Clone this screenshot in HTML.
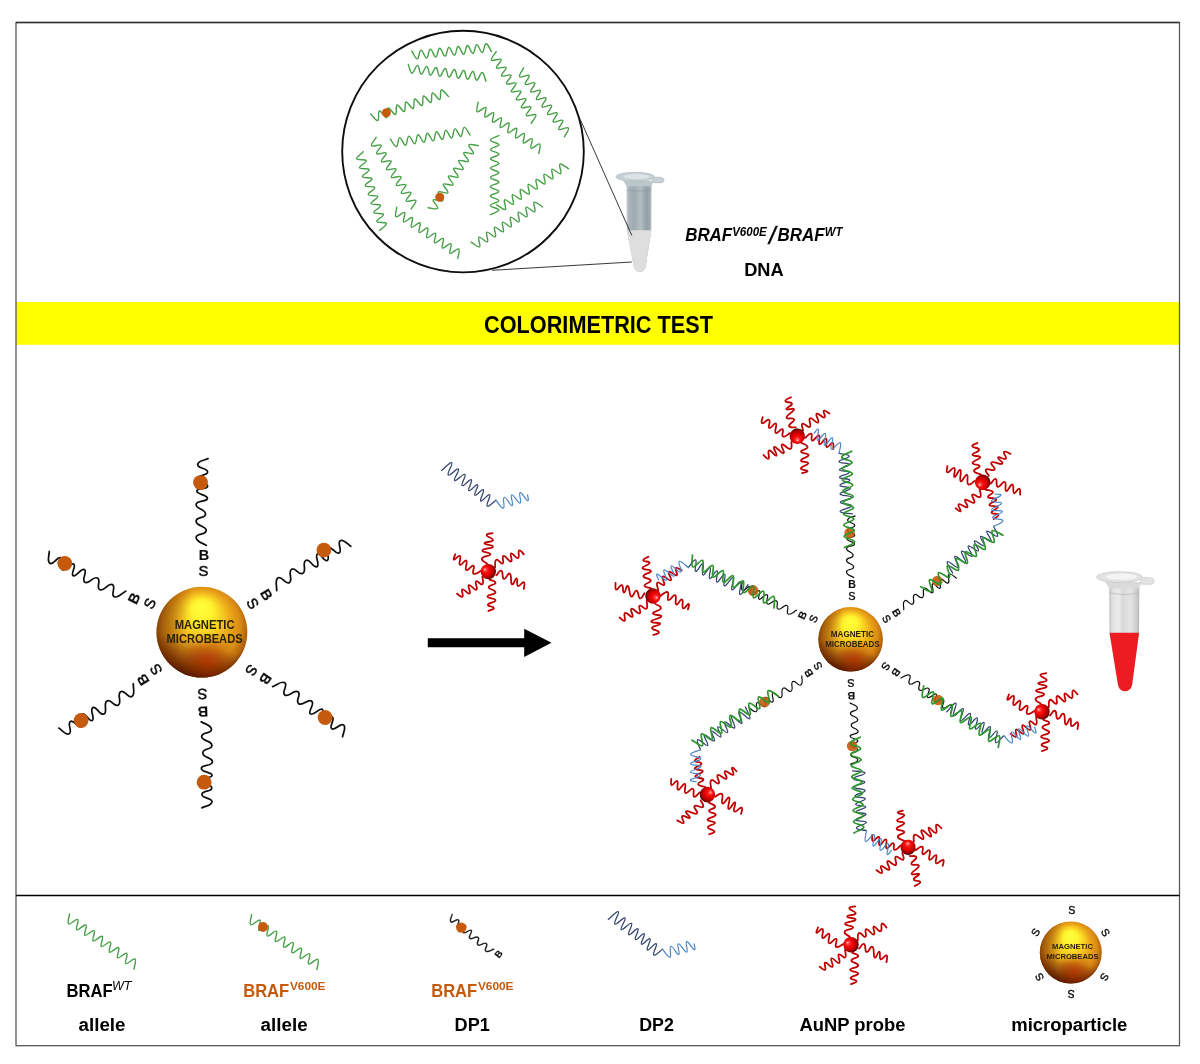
<!DOCTYPE html>
<html lang="en"><head><meta charset="utf-8"><title>Colorimetric test</title>
<style>html,body{margin:0;padding:0;background:#fff}svg{display:block}text{font-kerning:normal}</style></head>
<body>
<svg width="1200" height="1064" viewBox="0 0 1200 1064">
<defs>
<radialGradient id="gold" cx="0.5" cy="0.47" r="0.53" fx="0.5" fy="0.2">
<stop offset="0" stop-color="#ffff3c"/><stop offset="0.22" stop-color="#fff32e"/><stop offset="0.42" stop-color="#f7cb22"/><stop offset="0.6" stop-color="#eba61a"/><stop offset="0.8" stop-color="#d98a14"/><stop offset="0.93" stop-color="#b5650b"/><stop offset="1" stop-color="#84420a"/>
</radialGradient>
<radialGradient id="goldsh" cx="0.56" cy="0.8" r="0.3">
<stop offset="0" stop-color="#b82000" stop-opacity="0.6"/><stop offset="0.5" stop-color="#a02000" stop-opacity="0.35"/><stop offset="1" stop-color="#8a2800" stop-opacity="0"/>
</radialGradient>
<linearGradient id="goldl" x1="0" x2="1" y1="0.45" y2="0.55">
<stop offset="0" stop-color="#6a3000" stop-opacity="0.55"/><stop offset="0.35" stop-color="#6a3000" stop-opacity="0"/><stop offset="1" stop-color="#6a3000" stop-opacity="0"/>
</linearGradient>
<linearGradient id="goldb" x1="0.64" x2="0.36" y1="0" y2="1">
<stop offset="0" stop-color="#5a1a00" stop-opacity="0"/><stop offset="0.62" stop-color="#5a1a00" stop-opacity="0"/><stop offset="0.85" stop-color="#5a1a00" stop-opacity="0.6"/><stop offset="1" stop-color="#4a1000" stop-opacity="0.9"/>
</linearGradient>
<radialGradient id="red" cx="0.42" cy="0.45" r="0.62" fx="0.27" fy="0.36">
<stop offset="0" stop-color="#fff0f0"/><stop offset="0.1" stop-color="#ff6262"/><stop offset="0.3" stop-color="#f81010"/><stop offset="0.58" stop-color="#dc0000"/><stop offset="0.82" stop-color="#960000"/><stop offset="1" stop-color="#200000"/>
</radialGradient>
<linearGradient id="tubeg" x1="0" x2="1" y1="0" y2="0">
<stop offset="0" stop-color="#c3ccd0"/><stop offset="0.1" stop-color="#a9b5ba"/><stop offset="0.3" stop-color="#9dabb0"/><stop offset="0.55" stop-color="#b3bec2"/><stop offset="0.8" stop-color="#93a1a7"/><stop offset="0.93" stop-color="#9eabb0"/><stop offset="1" stop-color="#c3ccd0"/>
</linearGradient>
<linearGradient id="tuber" x1="0" x2="1" y1="0" y2="0">
<stop offset="0" stop-color="#b9b9b9"/><stop offset="0.08" stop-color="#dedede"/><stop offset="0.3" stop-color="#ececec"/><stop offset="0.45" stop-color="#d9d9d9"/><stop offset="0.7" stop-color="#e4e4e4"/><stop offset="0.9" stop-color="#cfcfcf"/><stop offset="1" stop-color="#b5b5b5"/>
</linearGradient>
<filter id="soft" x="0" y="0" width="1200" height="1064" filterUnits="userSpaceOnUse"><feGaussianBlur stdDeviation="0.45"/></filter>
</defs>
<rect width="1200" height="1064" fill="#fff"/>
<g filter="url(#soft)">
<rect x="16" y="302.1" width="1164" height="42.7" fill="#ffff00"/>
<rect x="16" y="22.5" width="1163.5" height="1023.2" fill="none" stroke="#5a5a5a" stroke-width="1.3"/>
<line x1="16" y1="22.5" x2="1179.5" y2="22.5" stroke="#333" stroke-width="1.3"/>
<line x1="16" y1="895.5" x2="1179.5" y2="895.5" stroke="#000" stroke-width="1.7"/>
<text x="484.1" y="332.5" font-family="'Liberation Sans', sans-serif" font-size="23.2" font-weight="bold" font-style="normal" fill="#000" text-anchor="start" textLength="228.8" lengthAdjust="spacingAndGlyphs">COLORIMETRIC TEST</text>
<circle cx="463" cy="151.6" r="120.8" fill="#fff" stroke="#0a0a0a" stroke-width="1.85"/>
<path d="M411.8 51C413.6 53.61 415.31 59.09 417.26 58.9C419.21 58.71 419.13 50.28 421.08 50.09C423.03 49.9 424.59 58.18 426.54 57.99C428.49 57.8 428.41 49.37 430.36 49.17C432.31 48.98 433.87 57.27 435.82 57.08C437.77 56.89 437.69 48.45 439.64 48.26C441.59 48.07 443.15 56.36 445.1 56.16C447.05 55.97 446.97 47.54 448.92 47.35C450.87 47.16 452.43 55.44 454.38 55.25C456.33 55.06 456.25 46.63 458.2 46.44C460.15 46.24 461.71 54.53 463.66 54.34C465.61 54.15 465.53 45.71 467.48 45.52C469.43 45.33 470.99 53.62 472.94 53.43C474.89 53.23 474.81 44.8 476.76 44.61C478.71 44.42 480.27 52.7 482.22 52.51C484.17 52.32 484.09 43.89 486.04 43.7C487.99 43.51 489.7 48.99 491.5 51.6" fill="none" stroke="#45a045" stroke-width="1.4" stroke-linecap="round" stroke-linejoin="round"/>
<path d="M408.3 64.4C409.52 67.31 410.07 73.01 412.01 73.22C413.95 73.44 415.6 65.2 417.54 65.41C419.48 65.62 419.31 74.02 421.25 74.23C423.18 74.45 424.83 66.21 426.77 66.42C428.71 66.63 428.54 75.03 430.48 75.24C432.42 75.46 434.07 67.22 436.01 67.43C437.95 67.64 437.78 76.04 439.72 76.25C441.66 76.47 443.31 68.23 445.25 68.44C447.19 68.65 447.01 77.05 448.95 77.26C450.89 77.47 452.54 69.23 454.48 69.45C456.42 69.66 456.25 78.06 458.19 78.27C460.13 78.48 461.78 70.24 463.72 70.46C465.66 70.67 465.49 79.07 467.43 79.28C469.37 79.49 471.02 71.25 472.95 71.47C474.89 71.68 474.72 80.08 476.66 80.29C478.6 80.5 480.25 72.26 482.19 72.48C484.13 72.69 484.68 78.39 485.9 81.3" fill="none" stroke="#45a045" stroke-width="1.4" stroke-linecap="round" stroke-linejoin="round"/>
<path d="M370.6 114C372.95 116.14 375.86 121.1 377.72 120.47C379.58 119.84 377.59 111.63 379.45 111C381.31 110.37 384.71 118.1 386.57 117.47C388.43 116.85 386.44 108.64 388.29 108.01C390.15 107.38 393.56 115.11 395.42 114.48C397.27 113.85 395.28 105.64 397.14 105.01C399 104.38 402.41 112.11 404.26 111.48C406.12 110.85 404.13 102.64 405.99 102.01C407.85 101.39 411.25 109.11 413.11 108.49C414.97 107.86 412.98 99.65 414.84 99.02C416.69 98.39 420.1 106.12 421.96 105.49C423.82 104.86 421.83 96.65 423.68 96.02C425.54 95.39 428.95 103.12 430.81 102.49C432.66 101.86 430.67 93.65 432.53 93.03C434.39 92.4 437.79 100.13 439.65 99.5C441.51 98.87 439.52 90.66 441.38 90.03C443.24 89.4 446.15 94.36 448.5 96.5" fill="none" stroke="#45a045" stroke-width="1.4" stroke-linecap="round" stroke-linejoin="round"/>
<path d="M390.4 139.1C392.36 141.6 394.39 146.98 396.33 146.68C398.26 146.37 397.69 137.95 399.62 137.64C401.56 137.33 403.61 145.52 405.55 145.22C407.48 144.91 406.91 136.49 408.84 136.18C410.78 135.87 412.83 144.06 414.77 143.76C416.71 143.45 416.13 135.03 418.07 134.72C420 134.41 422.05 142.6 423.99 142.3C425.93 141.99 425.35 133.57 427.29 133.26C429.22 132.95 431.28 141.15 433.21 140.84C435.15 140.53 434.57 132.11 436.51 131.8C438.45 131.5 440.5 139.69 442.43 139.38C444.37 139.07 443.79 130.65 445.73 130.34C447.67 130.04 449.72 138.23 451.66 137.92C453.59 137.61 453.02 129.19 454.95 128.88C456.89 128.58 458.94 136.77 460.88 136.46C462.81 136.15 462.24 127.73 464.17 127.42C466.11 127.12 468.14 132.5 470.1 135" fill="none" stroke="#45a045" stroke-width="1.4" stroke-linecap="round" stroke-linejoin="round"/>
<path d="M363.3 151.75C361.11 154.08 356.06 156.94 356.67 158.82C357.27 160.7 365.57 158.83 366.18 160.71C366.78 162.59 358.94 165.9 359.55 167.78C360.15 169.66 368.45 167.79 369.06 169.67C369.66 171.55 361.82 174.86 362.43 176.74C363.03 178.62 371.33 176.75 371.94 178.63C372.54 180.51 364.7 183.82 365.31 185.7C365.91 187.58 374.21 185.71 374.82 187.59C375.42 189.47 367.58 192.78 368.18 194.66C368.79 196.54 377.09 194.67 377.69 196.55C378.3 198.43 370.46 201.74 371.06 203.62C371.67 205.5 379.97 203.63 380.57 205.51C381.18 207.39 373.34 210.7 373.94 212.58C374.55 214.46 382.85 212.59 383.45 214.47C384.06 216.35 376.22 219.66 376.82 221.54C377.43 223.42 385.73 221.55 386.33 223.43C386.94 225.31 381.89 228.17 379.7 230.5" fill="none" stroke="#45a045" stroke-width="1.4" stroke-linecap="round" stroke-linejoin="round"/>
<path d="M376.2 137.3C374.67 140.08 370.52 144.05 371.56 145.71C372.6 147.37 380.11 143.54 381.15 145.2C382.2 146.86 375.48 151.95 376.52 153.61C377.56 155.27 385.07 151.44 386.11 153.1C387.15 154.76 380.43 159.85 381.47 161.51C382.51 163.17 390.02 159.34 391.06 161C392.1 162.65 385.39 167.75 386.43 169.41C387.47 171.07 394.98 167.24 396.02 168.89C397.06 170.55 390.34 175.65 391.38 177.31C392.42 178.96 399.93 175.13 400.97 176.79C402.01 178.45 395.3 183.55 396.34 185.2C397.38 186.86 404.89 183.03 405.93 184.69C406.97 186.35 400.25 191.44 401.29 193.1C402.33 194.76 409.84 190.93 410.88 192.59C411.92 194.25 405.2 199.34 406.25 201C407.29 202.66 414.8 198.83 415.84 200.49C416.88 202.15 412.73 206.12 411.2 208.9" fill="none" stroke="#45a045" stroke-width="1.4" stroke-linecap="round" stroke-linejoin="round"/>
<path d="M428.1 207.75C431.28 207.97 436.65 210.06 437.72 208.42C438.79 206.77 432.13 201.55 433.2 199.9C434.27 198.25 441.75 202.21 442.82 200.56C443.89 198.91 437.22 193.69 438.29 192.05C439.36 190.4 446.85 194.36 447.92 192.71C448.99 191.06 442.32 185.84 443.39 184.19C444.46 182.55 451.94 186.51 453.01 184.86C454.08 183.21 447.42 177.99 448.49 176.34C449.56 174.69 457.04 178.66 458.11 177.01C459.18 175.36 452.52 170.14 453.59 168.49C454.66 166.84 462.14 170.8 463.21 169.16C464.28 167.51 457.61 162.29 458.68 160.64C459.75 158.99 467.24 162.95 468.31 161.3C469.38 159.66 462.71 154.44 463.78 152.79C464.85 151.14 472.33 155.1 473.4 153.45C474.47 151.8 467.81 146.58 468.88 144.93C469.95 143.29 475.32 145.38 478.5 145.6" fill="none" stroke="#45a045" stroke-width="1.4" stroke-linecap="round" stroke-linejoin="round"/>
<path d="M396.8 207.2C396.52 210.36 394.34 215.68 395.97 216.77C397.59 217.87 402.91 211.32 404.53 212.42C406.15 213.51 402.07 220.89 403.7 221.99C405.32 223.08 410.64 216.54 412.26 217.63C413.88 218.73 409.8 226.11 411.42 227.2C413.05 228.3 418.36 221.75 419.99 222.85C421.61 223.94 417.53 231.32 419.15 232.42C420.78 233.51 426.09 226.97 427.72 228.06C429.34 229.16 425.26 236.54 426.88 237.64C428.51 238.73 433.82 232.19 435.45 233.28C437.07 234.38 432.99 241.76 434.61 242.85C436.24 243.95 441.55 237.4 443.18 238.5C444.8 239.59 440.72 246.97 442.34 248.07C443.96 249.16 449.28 242.62 450.9 243.71C452.53 244.81 448.45 252.19 450.07 253.28C451.69 254.38 457.01 247.83 458.63 248.93C460.26 250.02 458.08 255.34 457.8 258.5" fill="none" stroke="#45a045" stroke-width="1.4" stroke-linecap="round" stroke-linejoin="round"/>
<path d="M496.2 51.6C494.67 54.38 490.51 58.36 491.55 60.02C492.59 61.68 500.12 57.85 501.16 59.51C502.2 61.17 495.47 66.27 496.51 67.93C497.55 69.59 505.07 65.76 506.11 67.42C507.15 69.08 500.42 74.18 501.46 75.84C502.51 77.5 510.03 73.67 511.07 75.33C512.11 76.99 505.38 82.09 506.42 83.75C507.46 85.41 514.98 81.58 516.02 83.24C517.06 84.9 510.34 90 511.38 91.66C512.42 93.32 519.94 89.49 520.98 91.15C522.02 92.81 515.29 97.91 516.33 99.57C517.37 101.23 524.89 97.4 525.94 99.06C526.98 100.72 520.25 105.82 521.29 107.48C522.33 109.14 529.85 105.31 530.89 106.97C531.93 108.63 525.2 113.73 526.24 115.39C527.28 117.05 534.81 113.22 535.85 114.88C536.89 116.54 532.73 120.52 531.2 123.3" fill="none" stroke="#45a045" stroke-width="1.4" stroke-linecap="round" stroke-linejoin="round"/>
<path d="M523.6 67.9C522.29 70.8 518.46 75.12 519.64 76.69C520.81 78.27 528.02 73.83 529.2 75.41C530.37 76.98 524.06 82.62 525.23 84.2C526.41 85.78 533.62 81.34 534.79 82.91C535.97 84.49 529.65 90.13 530.83 91.71C532 93.28 539.21 88.84 540.39 90.42C541.56 92 535.25 97.64 536.42 99.22C537.6 100.79 544.81 96.35 545.98 97.93C547.16 99.5 540.84 105.15 542.02 106.72C543.19 108.3 550.4 103.86 551.58 105.43C552.75 107.01 546.44 112.65 547.61 114.23C548.79 115.81 556 111.37 557.17 112.94C558.35 114.52 552.03 120.16 553.21 121.74C554.38 123.31 561.59 118.87 562.77 120.45C563.94 122.03 557.63 127.67 558.8 129.24C559.98 130.82 567.19 126.38 568.36 127.96C569.54 129.53 565.71 133.85 564.4 136.75" fill="none" stroke="#45a045" stroke-width="1.4" stroke-linecap="round" stroke-linejoin="round"/>
<path d="M478.1 102.3C477.82 105.45 475.64 110.74 477.25 111.83C478.87 112.93 484.18 106.41 485.79 107.51C487.41 108.6 483.33 115.95 484.95 117.04C486.56 118.14 491.87 111.62 493.49 112.72C495.1 113.81 491.03 121.16 492.64 122.25C494.26 123.34 499.56 116.83 501.18 117.92C502.79 119.02 498.72 126.37 500.33 127.46C501.95 128.55 507.26 122.04 508.87 123.13C510.49 124.23 506.41 131.57 508.03 132.67C509.64 133.76 514.95 127.25 516.57 128.34C518.18 129.43 514.11 136.78 515.72 137.88C517.34 138.97 522.64 132.46 524.26 133.55C525.87 134.64 521.8 141.99 523.41 143.08C525.03 144.18 530.34 137.66 531.95 138.76C533.57 139.85 529.49 147.2 531.11 148.29C532.72 149.39 538.03 142.87 539.65 143.97C541.26 145.06 539.08 150.35 538.8 153.5" fill="none" stroke="#45a045" stroke-width="1.4" stroke-linecap="round" stroke-linejoin="round"/>
<path d="M499 135.5C496.22 137.03 490.59 138.17 490.58 140.13C490.57 142.09 498.97 142.87 498.96 144.83C498.96 146.79 490.55 147.5 490.55 149.46C490.54 151.42 498.94 152.2 498.93 154.15C498.92 156.11 490.52 156.83 490.51 158.79C490.5 160.75 498.9 161.52 498.89 163.48C498.89 165.44 490.48 166.16 490.48 168.11C490.47 170.07 498.87 170.85 498.86 172.81C498.85 174.77 490.45 175.48 490.44 177.44C490.43 179.4 498.83 180.18 498.82 182.14C498.82 184.09 490.41 184.81 490.41 186.77C490.4 188.73 498.8 189.5 498.79 191.46C498.78 193.42 490.38 194.14 490.37 196.1C490.36 198.05 498.76 198.83 498.75 200.79C498.75 202.75 490.34 203.46 490.34 205.42C490.33 207.38 498.73 208.16 498.72 210.12C498.71 212.08 493.08 213.22 490.3 214.75" fill="none" stroke="#45a045" stroke-width="1.4" stroke-linecap="round" stroke-linejoin="round"/>
<path d="M496.75 204.8C499.57 206.31 503.62 210.44 505.28 209.38C506.94 208.31 502.99 200.78 504.65 199.72C506.31 198.65 511.52 205.36 513.18 204.29C514.84 203.22 510.9 195.7 512.55 194.63C514.21 193.56 519.43 200.27 521.09 199.21C522.75 198.14 518.8 190.61 520.46 189.55C522.12 188.48 527.33 195.19 528.99 194.12C530.65 193.05 526.7 185.53 528.36 184.46C530.02 183.39 535.23 190.11 536.89 189.04C538.55 187.97 534.6 180.45 536.26 179.38C537.92 178.31 543.13 185.02 544.79 183.95C546.45 182.89 542.5 175.36 544.16 174.29C545.82 173.23 551.04 179.94 552.7 178.87C554.35 177.8 550.41 170.28 552.07 169.21C553.73 168.14 558.94 174.85 560.6 173.78C562.26 172.72 558.31 165.19 559.97 164.12C561.63 163.06 565.68 167.19 568.5 168.7" fill="none" stroke="#45a045" stroke-width="1.4" stroke-linecap="round" stroke-linejoin="round"/>
<path d="M471.1 242.2C473.89 243.72 477.89 247.85 479.54 246.8C481.2 245.75 477.33 238.25 478.98 237.2C480.64 236.15 485.77 242.85 487.43 241.8C489.08 240.75 485.21 233.25 486.86 232.2C488.52 231.15 493.65 237.85 495.31 236.8C496.96 235.75 493.09 228.25 494.75 227.2C496.4 226.15 501.54 232.85 503.19 231.8C504.85 230.75 500.97 223.25 502.63 222.2C504.28 221.15 509.42 227.85 511.07 226.8C512.73 225.75 508.85 218.25 510.51 217.2C512.16 216.15 517.3 222.85 518.95 221.8C520.61 220.75 516.74 213.25 518.39 212.2C520.05 211.15 525.18 217.85 526.84 216.8C528.49 215.75 524.62 208.25 526.27 207.2C527.93 206.15 533.06 212.85 534.72 211.8C536.37 210.75 532.5 203.25 534.16 202.2C535.81 201.15 539.81 205.28 542.6 206.8" fill="none" stroke="#45a045" stroke-width="1.4" stroke-linecap="round" stroke-linejoin="round"/>
<circle cx="386.4" cy="112.8" r="4.5" fill="#c55a11"/>
<circle cx="439.75" cy="197.25" r="4.5" fill="#c55a11"/>
<g transform="translate(639.1 172.3) scale(1)">
<path d="M-12.5 12 L12.5 12 L12.3 57.9 L6.6 93.5 Q5.8 99.6 0.6 99.6 Q-4.6 99.6 -5.4 93.5 L-12.3 57.9 Z" fill="url(#tubeg)"/>
<path d="M-12.3 57.9 L12.3 57.9 L6.6 93.5 Q5.8 99.6 0.6 99.6 Q-4.6 99.6 -5.4 93.5 L-12.3 57.9 Z" fill="#dedede"/>
<path d="M-12.3 17.5 Q0 20.5 12.3 17.5" fill="none" stroke="#8d9aa0" stroke-width="0.9" opacity="0.7"/>
<path d="M-16 8.5 L14 8.5 L12.5 14 L-12.5 14 Z" fill="#bcc7cc"/>
<path d="M13 4.6 L21.5 5 Q25.2 5.6 25 8 Q24.8 10.6 21.5 10.6 L14 10.4 Z" fill="#c6d0d5" stroke="#aab5bb" stroke-width="0.5"/>
<ellipse cx="-4" cy="4.5" rx="19.1" ry="4.5" fill="#c6d0d5" stroke="#aab5bb" stroke-width="0.6"/>
<ellipse cx="-2.5" cy="4.2" rx="13" ry="2.6" fill="#dde4e8"/>
</g>
<line x1="580.3" y1="119.5" x2="631.8" y2="235.5" stroke="#222" stroke-width="0.9"/>
<line x1="492" y1="270.3" x2="631.8" y2="262" stroke="#222" stroke-width="0.9"/>
<text font-family="'Liberation Sans', sans-serif"><tspan x="685.2" y="241.2" font-size="17.6" font-weight="bold" font-style="italic" fill="#000" textLength="47" lengthAdjust="spacingAndGlyphs">BRAF</tspan><tspan x="732.2" y="235.6" font-size="12.2" font-weight="bold" font-style="italic" fill="#000" textLength="34.6" lengthAdjust="spacingAndGlyphs">V600E</tspan><tspan x="769" y="243.6" font-size="23.5" font-weight="normal" font-style="italic" fill="#000" stroke="#000" stroke-width="0.5">/</tspan><tspan x="777.5" y="241.2" font-size="17.6" font-weight="bold" font-style="italic" fill="#000" textLength="47" lengthAdjust="spacingAndGlyphs">BRAF</tspan><tspan x="824.8" y="235.6" font-size="12.2" font-weight="bold" font-style="italic" fill="#000" textLength="17.6" lengthAdjust="spacingAndGlyphs">WT</tspan></text>
<text x="744.2" y="275.9" font-family="'Liberation Sans', sans-serif" font-size="17.6" font-weight="bold" font-style="normal" fill="#000" text-anchor="start" textLength="39.5" lengthAdjust="spacingAndGlyphs">DNA</text>
<path d="M208.1 458.6C204.98 460.4 197.85 460.55 197.7 464.6C197.55 468.65 207.66 467.93 207.6 472.1C207.54 476.27 197.5 474.27 197.5 478.5C197.5 482.73 207.81 482.42 207.6 486.2C207.39 489.98 196.86 487.44 196.8 491.1C196.74 494.76 207.61 494.38 207.4 498.4C207.19 502.42 196.67 499.85 196.1 504.5C195.53 509.15 205.5 508.83 205.5 513.9C205.5 518.97 195.89 516.45 196.1 521.4C196.31 526.35 206.2 525.6 206.2 530.4C206.2 535.2 196.1 532.9 196.1 537.4C196.1 541.9 203.17 543 206.2 545.4" fill="none" stroke="#111" stroke-width="1.75" stroke-linecap="round"/>
<circle cx="200.5" cy="482.6" r="7.4" fill="#c55a11" opacity="1.0"/>
<text transform="translate(203.5 571) rotate(0)" x="0" y="5.3" font-family="'Liberation Sans', sans-serif" font-size="14.8" font-weight="normal" text-anchor="middle" fill="#111" stroke="#111" stroke-width="0.5">S</text>
<text transform="translate(204.1 555.2) rotate(0)" x="0" y="5.19" font-family="'Liberation Sans', sans-serif" font-size="14.5" font-weight="bold" text-anchor="middle" fill="#111" stroke="#111" stroke-width="0.15">B</text>
<path d="M350.8 546.25C347.63 544.58 343.73 538.65 340.24 540.67C336.75 542.69 342.71 550.82 339.17 552.98C335.62 555.13 331.99 545.62 328.43 547.86C324.87 550.1 330.59 558.62 327.29 560.44C324 562.26 320.56 552.05 317.45 553.94C314.34 555.83 320.41 564.78 316.91 566.73C313.42 568.68 310.01 558.46 305.8 560.44C301.58 562.42 307.12 570.65 302.86 573.34C298.59 576.02 295.62 566.59 291.56 569.39C287.51 572.19 293.37 580.12 289.33 582.66C285.29 585.2 281.88 575.48 278.09 577.86C274.3 580.24 277.12 586.78 276.7 590.6" fill="none" stroke="#111" stroke-width="1.75" stroke-linecap="round"/>
<circle cx="323.9" cy="550.1" r="7.4" fill="#c55a11" opacity="1.0"/>
<text transform="translate(252.8 603.4) rotate(57.84)" x="0" y="5.3" font-family="'Liberation Sans', sans-serif" font-size="14.8" font-weight="normal" text-anchor="middle" fill="#111" stroke="#111" stroke-width="0.5">S</text>
<text transform="translate(266.75 594.7) rotate(57.84)" x="0" y="5.19" font-family="'Liberation Sans', sans-serif" font-size="14.5" font-weight="bold" text-anchor="middle" fill="#111" stroke="#111" stroke-width="0.15">B</text>
<path d="M342.6 736.75C342.87 733.19 346.74 727.27 343.51 724.88C340.28 722.49 335.21 731.17 331.83 728.78C328.45 726.4 335.71 719.3 332.24 716.93C328.78 714.56 323.26 723.18 320.28 720.89C317.31 718.6 325.28 711.4 322.32 709.3C319.36 707.21 313.58 716.32 310.41 713.9C307.23 711.47 315.23 704.3 311.74 701.23C308.25 698.16 302.93 706.5 298.78 703.66C294.63 700.82 302.07 694.37 297.9 691.77C293.73 689.17 288.81 697.68 284.88 695C280.95 692.31 288.49 685.33 284.8 682.81C281.12 680.29 276.26 685.46 272.6 686.6" fill="none" stroke="#111" stroke-width="1.75" stroke-linecap="round"/>
<circle cx="325.1" cy="717.5" r="7.4" fill="#c55a11" opacity="1.0"/>
<text transform="translate(251.6 670.25) rotate(124.36)" x="0" y="5.3" font-family="'Liberation Sans', sans-serif" font-size="14.8" font-weight="normal" text-anchor="middle" fill="#111" stroke="#111" stroke-width="0.5">S</text>
<text transform="translate(265.6 679) rotate(124.36)" x="0" y="5.19" font-family="'Liberation Sans', sans-serif" font-size="14.5" font-weight="bold" text-anchor="middle" fill="#111" stroke="#111" stroke-width="0.15">B</text>
<path d="M201.8 807.9C204.84 806.02 211.92 805.67 211.95 801.65C211.98 797.62 201.97 798.63 201.91 794.49C201.85 790.35 211.87 792.04 211.75 787.85C211.63 783.65 201.41 784.25 201.51 780.49C201.61 776.74 212.13 778.96 212.08 775.32C212.04 771.69 201.26 772.38 201.35 768.38C201.45 764.38 211.96 766.63 212.4 762C212.83 757.37 202.94 757.97 202.8 752.94C202.65 747.91 212.26 750.14 211.91 745.23C211.56 740.32 201.77 741.35 201.63 736.59C201.49 731.82 211.58 733.82 211.45 729.35C211.32 724.88 204.28 724 201.2 721.7" fill="none" stroke="#111" stroke-width="1.75" stroke-linecap="round"/>
<circle cx="204.1" cy="782.2" r="7.4" fill="#c55a11" opacity="1.0"/>
<text transform="translate(202.5 694.1) rotate(178.35)" x="0" y="5.3" font-family="'Liberation Sans', sans-serif" font-size="14.8" font-weight="normal" text-anchor="middle" fill="#111" stroke="#111" stroke-width="0.5">S</text>
<text transform="translate(202.9 711.8) rotate(178.35)" x="0" y="5.19" font-family="'Liberation Sans', sans-serif" font-size="14.5" font-weight="bold" text-anchor="middle" fill="#111" stroke="#111" stroke-width="0.15">B</text>
<path d="M58.7 728.1C61.88 729.79 65.78 735.76 69.29 733.74C72.81 731.72 66.84 723.53 70.41 721.38C73.98 719.22 77.6 728.79 81.19 726.55C84.77 724.31 79.05 715.73 82.37 713.91C85.68 712.09 89.1 722.36 92.24 720.47C95.37 718.58 89.3 709.57 92.82 707.62C96.33 705.67 99.73 715.95 103.97 713.97C108.22 711.99 102.66 703.71 106.96 701.02C111.26 698.34 114.21 707.82 118.3 705.02C122.39 702.22 116.51 694.23 120.58 691.69C124.65 689.15 128.05 698.93 131.87 696.55C135.68 694.17 132.87 687.59 133.3 683.75" fill="none" stroke="#111" stroke-width="1.75" stroke-linecap="round"/>
<circle cx="81.1" cy="720.5" r="7.4" fill="#c55a11" opacity="1.0"/>
<text transform="translate(155.9 669.75) rotate(238.01)" x="0" y="5.3" font-family="'Liberation Sans', sans-serif" font-size="14.8" font-weight="normal" text-anchor="middle" fill="#111" stroke="#111" stroke-width="0.5">S</text>
<text transform="translate(142.7 679.7) rotate(238.01)" x="0" y="5.19" font-family="'Liberation Sans', sans-serif" font-size="14.5" font-weight="bold" text-anchor="middle" fill="#111" stroke="#111" stroke-width="0.15">B</text>
<path d="M49.25 551.5C49.49 555.07 46.5 561.48 50.04 563.39C53.58 565.29 57.36 555.98 61.05 557.86C64.74 559.74 58.56 567.8 62.33 569.65C66.09 571.5 70.33 562.19 73.6 564.03C76.88 565.87 70.01 574.14 73.24 575.79C76.47 577.45 80.89 567.6 84.38 569.55C87.87 571.5 80.97 579.74 84.86 582.28C88.75 584.83 92.83 575.81 97.35 578.03C101.86 580.25 95.41 587.7 99.91 589.68C104.41 591.66 108.07 582.53 112.34 584.63C116.62 586.73 110.15 594.72 114.15 596.69C118.16 598.66 122.24 592.85 125.7 591.2" fill="none" stroke="#111" stroke-width="1.75" stroke-linecap="round"/>
<circle cx="64.8" cy="563.4" r="7.4" fill="#c55a11" opacity="1.0"/>
<text transform="translate(149.6 603.4) rotate(-63.81)" x="0" y="5.3" font-family="'Liberation Sans', sans-serif" font-size="14.8" font-weight="normal" text-anchor="middle" fill="#111" stroke="#111" stroke-width="0.5">S</text>
<text transform="translate(133.8 598.2) rotate(-63.81)" x="0" y="5.19" font-family="'Liberation Sans', sans-serif" font-size="14.5" font-weight="bold" text-anchor="middle" fill="#111" stroke="#111" stroke-width="0.15">B</text>
<circle cx="201.9" cy="632.2" r="45.4" fill="url(#gold)"/>
<circle cx="201.9" cy="632.2" r="45.4" fill="url(#goldl)"/>
<circle cx="201.9" cy="632.2" r="45.4" fill="url(#goldb)"/>
<circle cx="201.9" cy="632.2" r="45.4" fill="url(#goldsh)"/>
<text x="204.6" y="628.6" font-family="'Liberation Sans', sans-serif" font-size="12" font-weight="bold" font-style="normal" fill="#2b2205" text-anchor="middle" textLength="59.8" lengthAdjust="spacingAndGlyphs">MAGNETIC</text>
<text x="204.6" y="642.7" font-family="'Liberation Sans', sans-serif" font-size="12" font-weight="bold" font-style="normal" fill="#2b2205" text-anchor="middle" textLength="76" lengthAdjust="spacingAndGlyphs">MICROBEADS</text>
<path d="M427.8 638.3 L524.2 638.3 L524.2 628.8 L551.5 642.8 L524.2 657 L524.2 647.3 L427.8 647.3 Z" fill="#000"/>
<path d="M441.73 470.33C444.73 468.03 450.11 461.5 451.73 462.67C453.36 463.84 446.56 473.44 448.23 475C449.9 476.56 456.79 467.52 458.4 468.92C460 470.31 453.02 479.23 454.65 480.58C456.27 481.93 463.02 473.08 464.9 474.33C466.77 475.58 460.54 484.23 462.15 485.58C463.75 486.94 469.65 478.5 471.32 479.75C472.99 481 467.26 489.33 468.82 490.58C470.38 491.83 476.05 483.6 477.57 484.75C479.09 485.9 473.44 493.92 474.9 495.17C476.36 496.42 481.94 488.29 483.4 489.75C484.86 491.21 479.17 499.75 480.73 501C482.29 502.25 488.04 493.5 489.65 494.75C491.25 496 485.59 504.64 487.15 506C488.71 507.36 493.27 501.92 495.9 500.17" fill="none" stroke="#34456f" stroke-width="1.3" stroke-linecap="round" stroke-linejoin="round"/>
<path d="M495.9 500.17C498.15 502.54 501.32 508.81 503.4 508.08C505.48 507.35 502.04 497.88 504.23 497.25C506.42 496.62 510.27 506.21 512.15 505.58C514.02 504.96 509.75 495.38 511.73 494.75C513.71 494.12 517.98 503.6 520.07 503.08C522.15 502.56 518.19 493.29 520.07 492.67C521.94 492.04 525.69 500.06 527.57 500.58C529.44 501.1 527.57 496.5 527.57 494.75" fill="none" stroke="#4a86c8" stroke-width="1.2" stroke-linecap="round" stroke-linejoin="round"/>
<path d="M487.03 563.56C485.51 562.04 481.02 561.05 481.95 558.49C482.89 555.93 490.3 556.47 490.42 554.26C490.53 552.05 481.68 552.54 482.38 550.45C483.08 548.36 492.37 548.62 492.95 546.64C493.53 544.66 484.49 545 484.49 543.26C484.49 541.51 492.37 542.51 492.95 540.3C493.53 538.09 486.72 537.2 486.61 535.22C486.49 533.24 490.75 533.74 492.53 533.11" fill="none" stroke="#c00000" stroke-width="1.8" stroke-linecap="round" stroke-linejoin="round"/>
<path d="M495.07 567.37C495.45 565.09 494.24 560.8 496.34 559.76C498.43 558.71 500.7 564.61 502.68 563.56C504.66 562.52 501.2 556.53 503.53 555.95C505.85 555.37 509.05 562.15 511.14 561.45C513.24 560.75 509.28 554.34 511.14 553.41C513 552.48 515.7 558.88 517.91 558.06C520.12 557.25 517.55 551.5 519.18 550.45C520.81 549.4 522.44 553.11 523.83 554.26" fill="none" stroke="#c00000" stroke-width="1.8" stroke-linecap="round" stroke-linejoin="round"/>
<path d="M496.34 575.41C497.86 574.01 499.32 569.82 501.41 570.75C503.51 571.68 501.62 577.98 503.95 578.79C506.28 579.61 507.66 572.2 509.87 573.72C512.08 575.23 510.13 583.01 511.99 584.29C513.85 585.57 515.01 577.9 516.64 578.37C518.27 578.83 515.93 584.94 517.91 585.98C519.89 587.03 522.2 581.36 523.83 582.18C525.46 582.99 523.83 586.91 523.83 588.94" fill="none" stroke="#c00000" stroke-width="1.8" stroke-linecap="round" stroke-linejoin="round"/>
<path d="M489.57 579.64C491.35 580.65 495.72 580.93 495.49 583.02C495.26 585.12 488.72 584.69 488.72 587.25C488.72 589.81 495.84 589.77 495.49 592.33C495.14 594.89 487.45 594.35 487.45 596.56C487.45 598.77 495.37 598.15 495.49 600.36C495.61 602.58 488.34 602.5 487.88 604.59C487.41 606.69 493.68 606.23 493.8 607.98C493.92 609.72 489.95 610.05 488.3 610.94" fill="none" stroke="#c00000" stroke-width="1.8" stroke-linecap="round" stroke-linejoin="round"/>
<path d="M482.38 576.68C482.38 578.96 484.12 583.01 482.38 584.29C480.63 585.57 477.66 579.82 476.03 581.33C474.4 582.84 478.43 588.74 476.46 589.79C474.48 590.84 470.7 584.09 468.84 585.14C466.98 586.18 471.43 592.43 469.69 593.6C467.94 594.76 464.47 588.55 462.5 589.37C460.52 590.18 464.01 595.39 462.5 596.56C460.98 597.72 458.65 594.48 457 593.6" fill="none" stroke="#c00000" stroke-width="1.8" stroke-linecap="round" stroke-linejoin="round"/>
<path d="M481.11 570.75C478.82 571.64 475.59 575.11 473.49 573.72C471.4 572.32 475.47 566.72 473.49 565.68C471.52 564.63 468.28 571.3 466.3 569.91C464.33 568.51 468.05 562 466.3 560.6C464.56 559.21 461.7 566.11 459.96 564.83C458.21 563.55 461.59 557.34 459.96 555.95C458.33 554.55 455.32 560.22 454.04 559.76C452.76 559.29 454.92 555.91 455.31 554.26" fill="none" stroke="#c00000" stroke-width="1.8" stroke-linecap="round" stroke-linejoin="round"/>
<g transform="translate(488.3 571.6) rotate(0)"><circle r="7.7" fill="url(#red)"/></g>
<path d="M855.01 515.87C852.79 517.15 847.72 517.26 847.61 520.14C847.51 523.02 854.7 522.5 854.65 525.47C854.61 528.43 847.47 527.01 847.47 530.02C847.47 533.03 854.8 532.81 854.65 535.49C854.5 538.18 847.02 536.38 846.97 538.98C846.93 541.58 854.66 541.31 854.51 544.17C854.36 547.03 846.88 545.2 846.48 548.51C846.07 551.81 853.16 551.58 853.16 555.19C853.16 558.79 846.33 557 846.48 560.52C846.63 564.04 853.66 563.51 853.66 566.92C853.66 570.33 846.48 568.7 846.48 571.9C846.48 575.1 851.5 575.88 853.66 577.59" fill="none" stroke="#111" stroke-width="1.2" stroke-linecap="round"/>
<circle cx="849.6" cy="532.93" r="5.3" fill="#c55a11" opacity="0.9"/>
<text transform="translate(851.74 595.79) rotate(0)" x="0" y="3.87" font-family="'Liberation Sans', sans-serif" font-size="10.8" font-weight="normal" text-anchor="middle" fill="#111" stroke="#111" stroke-width="0.4">S</text>
<text transform="translate(852.16 584.55) rotate(0)" x="0" y="3.79" font-family="'Liberation Sans', sans-serif" font-size="10.58" font-weight="bold" text-anchor="middle" fill="#111" stroke="#111" stroke-width="0.12">B</text>
<path d="M956.47 578.19C954.22 577 951.44 572.79 948.96 574.22C946.48 575.66 950.72 581.44 948.2 582.97C945.68 584.51 943.1 577.74 940.56 579.33C938.03 580.93 942.1 586.98 939.75 588.28C937.41 589.58 934.97 582.31 932.76 583.66C930.54 585 934.86 591.36 932.37 592.75C929.89 594.14 927.47 586.87 924.47 588.28C921.47 589.69 925.41 595.54 922.38 597.45C919.34 599.36 917.24 592.65 914.35 594.64C911.47 596.63 915.64 602.27 912.76 604.08C909.89 605.88 907.47 598.97 904.77 600.66C902.08 602.36 904.08 607 903.78 609.72" fill="none" stroke="#111" stroke-width="1.2" stroke-linecap="round"/>
<circle cx="937.34" cy="580.93" r="5.3" fill="#c55a11" opacity="0.9"/>
<text transform="translate(886.79 618.82) rotate(57.84)" x="0" y="3.87" font-family="'Liberation Sans', sans-serif" font-size="10.8" font-weight="normal" text-anchor="middle" fill="#111" stroke="#111" stroke-width="0.4">S</text>
<text transform="translate(896.71 612.64) rotate(57.84)" x="0" y="3.79" font-family="'Liberation Sans', sans-serif" font-size="10.58" font-weight="bold" text-anchor="middle" fill="#111" stroke="#111" stroke-width="0.12">B</text>
<path d="M950.64 713.64C950.83 711.1 953.58 706.89 951.28 705.19C948.99 703.49 945.38 709.67 942.98 707.97C940.57 706.28 945.74 701.23 943.27 699.54C940.81 697.86 936.89 703.98 934.77 702.36C932.65 700.73 938.32 695.61 936.22 694.12C934.11 692.63 930.01 699.11 927.75 697.39C925.49 695.66 931.18 690.56 928.7 688.38C926.22 686.2 922.43 692.13 919.48 690.11C916.53 688.09 921.82 683.5 918.86 681.65C915.89 679.8 912.39 685.86 909.6 683.95C906.81 682.04 912.16 677.07 909.54 675.28C906.93 673.49 903.47 677.17 900.87 677.98" fill="none" stroke="#111" stroke-width="1.2" stroke-linecap="round"/>
<circle cx="938.2" cy="699.95" r="5.3" fill="#c55a11" opacity="0.9"/>
<text transform="translate(885.94 666.35) rotate(124.36)" x="0" y="3.87" font-family="'Liberation Sans', sans-serif" font-size="10.8" font-weight="normal" text-anchor="middle" fill="#111" stroke="#111" stroke-width="0.4">S</text>
<text transform="translate(895.89 672.57) rotate(124.36)" x="0" y="3.79" font-family="'Liberation Sans', sans-serif" font-size="10.58" font-weight="bold" text-anchor="middle" fill="#111" stroke="#111" stroke-width="0.12">B</text>
<path d="M850.53 764.22C852.69 762.89 857.72 762.64 857.75 759.78C857.77 756.92 850.65 757.63 850.61 754.69C850.56 751.74 857.69 752.95 857.6 749.96C857.52 746.98 850.25 747.41 850.32 744.74C850.39 742.07 857.87 743.64 857.84 741.06C857.81 738.48 850.15 738.96 850.21 736.12C850.28 733.28 857.75 734.88 858.06 731.59C858.37 728.3 851.34 728.73 851.24 725.15C851.13 721.57 857.97 723.15 857.72 719.66C857.47 716.18 850.51 716.91 850.41 713.52C850.31 710.13 857.48 711.55 857.39 708.37C857.3 705.2 852.29 704.57 850.1 702.93" fill="none" stroke="#111" stroke-width="1.2" stroke-linecap="round"/>
<circle cx="852.16" cy="745.95" r="5.3" fill="#c55a11" opacity="0.9"/>
<text transform="translate(851.03 683.31) rotate(178.35)" x="0" y="3.87" font-family="'Liberation Sans', sans-serif" font-size="10.8" font-weight="normal" text-anchor="middle" fill="#111" stroke="#111" stroke-width="0.4">S</text>
<text transform="translate(851.31 695.9) rotate(178.35)" x="0" y="3.79" font-family="'Liberation Sans', sans-serif" font-size="10.58" font-weight="bold" text-anchor="middle" fill="#111" stroke="#111" stroke-width="0.12">B</text>
<path d="M748.78 707.48C751.04 708.69 753.82 712.93 756.32 711.5C758.82 710.06 754.57 704.24 757.11 702.7C759.65 701.17 762.22 707.98 764.77 706.38C767.32 704.79 763.25 698.69 765.61 697.4C767.97 696.1 770.4 703.4 772.63 702.06C774.86 700.72 770.54 694.31 773.04 692.92C775.54 691.54 777.95 698.85 780.97 697.44C783.99 696.03 780.04 690.14 783.1 688.23C786.16 686.32 788.26 693.07 791.16 691.08C794.06 689.09 789.89 683.41 792.78 681.6C795.68 679.79 798.09 686.75 800.81 685.05C803.52 683.36 801.52 678.68 801.83 675.95" fill="none" stroke="#111" stroke-width="1.2" stroke-linecap="round"/>
<circle cx="764.71" cy="702.08" r="5.3" fill="#c55a11" opacity="0.9"/>
<text transform="translate(817.89 666) rotate(238.01)" x="0" y="3.87" font-family="'Liberation Sans', sans-serif" font-size="10.8" font-weight="normal" text-anchor="middle" fill="#111" stroke="#111" stroke-width="0.4">S</text>
<text transform="translate(808.51 673.07) rotate(238.01)" x="0" y="3.79" font-family="'Liberation Sans', sans-serif" font-size="10.58" font-weight="bold" text-anchor="middle" fill="#111" stroke="#111" stroke-width="0.12">B</text>
<path d="M742.07 581.92C742.23 584.46 740.11 589.02 742.63 590.37C745.14 591.73 747.84 585.11 750.46 586.44C753.08 587.78 748.69 593.51 751.36 594.83C754.04 596.15 757.05 589.52 759.38 590.83C761.71 592.14 756.82 598.02 759.12 599.19C761.42 600.37 764.56 593.37 767.04 594.76C769.52 596.14 764.62 602 767.39 603.81C770.15 605.62 773.05 599.21 776.26 600.79C779.47 602.36 774.89 607.66 778.08 609.07C781.28 610.48 783.89 603.98 786.93 605.48C789.96 606.97 785.36 612.65 788.21 614.05C791.06 615.45 793.96 611.32 796.42 610.15" fill="none" stroke="#111" stroke-width="1.2" stroke-linecap="round"/>
<circle cx="753.12" cy="590.38" r="5.3" fill="#c55a11" opacity="0.9"/>
<text transform="translate(813.41 618.82) rotate(-63.81)" x="0" y="3.87" font-family="'Liberation Sans', sans-serif" font-size="10.8" font-weight="normal" text-anchor="middle" fill="#111" stroke="#111" stroke-width="0.4">S</text>
<text transform="translate(802.18 615.13) rotate(-63.81)" x="0" y="3.79" font-family="'Liberation Sans', sans-serif" font-size="10.58" font-weight="bold" text-anchor="middle" fill="#111" stroke="#111" stroke-width="0.12">B</text>
<circle cx="850.6" cy="639.3" r="32.3" fill="url(#gold)"/>
<circle cx="850.6" cy="639.3" r="32.3" fill="url(#goldl)"/>
<circle cx="850.6" cy="639.3" r="32.3" fill="url(#goldb)"/>
<circle cx="850.6" cy="639.3" r="32.3" fill="url(#goldsh)"/>
<text x="852.4" y="636.7" font-family="'Liberation Sans', sans-serif" font-size="8.4" font-weight="bold" font-style="normal" fill="#2b2205" text-anchor="middle" textLength="43.2" lengthAdjust="spacingAndGlyphs">MAGNETIC</text>
<text x="852.4" y="646.8" font-family="'Liberation Sans', sans-serif" font-size="8.4" font-weight="bold" font-style="normal" fill="#2b2205" text-anchor="middle" textLength="54.5" lengthAdjust="spacingAndGlyphs">MICROBEADS</text>
<path d="M791.48 441.88C791.12 444 792.89 448.23 790.27 448.95C787.64 449.67 783.8 443.31 781.93 444.49C780.06 445.68 785.58 452.61 783.47 453.25C781.36 453.89 776.21 446.15 774.26 446.82C772.31 447.49 777.81 454.67 776.38 455.68C774.96 456.68 771.22 449.68 769.08 450.49C766.94 451.29 770.15 457.36 768.61 458.59C767.06 459.83 765 456.07 763.46 454.99" fill="none" stroke="#c00000" stroke-width="1.8" stroke-linecap="round" stroke-linejoin="round"/>
<path d="M789.94 433.12C787.86 434.13 785.06 437.59 783 436.49C780.93 435.38 784.43 430.12 782.44 429.11C780.44 428.1 777.56 434.38 775.74 432.82C773.92 431.26 777.6 424.74 775.82 423.43C774.05 422.13 771.1 429.06 769.27 428.08C767.43 427.1 771.1 421.2 769.15 419.87C767.21 418.54 764.01 423.95 762.21 423.23C760.42 422.51 762.5 419.04 762.63 417.24" fill="none" stroke="#c00000" stroke-width="1.8" stroke-linecap="round" stroke-linejoin="round"/>
<path d="M795.76 427.45C793.74 427.01 789.49 428.24 789.04 425.99C788.58 423.75 794.8 421.65 794.12 419.28C793.44 416.91 786.61 420.06 786.56 417.38C786.52 414.71 794 411.81 793.97 409.55C793.94 407.29 787.01 410.77 786.45 409.17C785.89 407.58 792.21 405.96 791.93 403.74C791.64 401.52 785.68 402.91 785.4 401.11C785.12 399.31 789.26 398.37 790.92 397.2" fill="none" stroke="#c00000" stroke-width="1.8" stroke-linecap="round" stroke-linejoin="round"/>
<path d="M803.12 430.52C802.92 428.49 800.62 424.76 802.46 423.74C804.3 422.72 807.73 428.29 809.82 426.81C811.91 425.34 807.76 419.56 810.05 418.36C812.34 417.17 816.34 423.75 818.14 422.47C819.95 421.2 814.87 415.09 816.61 413.72C818.34 412.35 822.48 418.32 824.46 417.49C826.43 416.66 822.44 411.8 823.79 410.7C825.15 409.6 827.71 412.64 829.39 413.48" fill="none" stroke="#c00000" stroke-width="1.8" stroke-linecap="round" stroke-linejoin="round"/>
<path d="M804.86 438.1C806.72 436.78 809.02 433.02 811.07 433.7C813.12 434.38 810.15 440.13 812.32 440.59C814.5 441.04 816.98 434.35 818.98 435.35C820.97 436.36 817.65 443.34 819.58 444.25C821.51 445.16 824.04 437.92 825.99 438.67C827.95 439.43 824.89 445.84 826.7 446.98C828.5 448.13 830.74 442.27 832.56 442.83C834.38 443.39 833.09 447.17 833.32 449.02" fill="none" stroke="#c00000" stroke-width="1.8" stroke-linecap="round" stroke-linejoin="round"/>
<path d="M800.76 442.55C802.81 443.9 807.51 444.54 807.58 447.05C807.65 449.57 800.73 449.48 801.02 451.7C801.31 453.91 808.62 452.7 808.63 455.12C808.63 457.54 801.17 458.26 801.04 460.49C800.91 462.72 808.19 461.06 808.15 463.23C808.12 465.39 801.1 466.22 800.91 468.36C800.71 470.49 807.07 469.68 807.43 470.99C807.79 472.3 803.78 472.49 802.21 473.13" fill="none" stroke="#c00000" stroke-width="1.8" stroke-linecap="round" stroke-linejoin="round"/>
<g transform="translate(797.3 436.2) rotate(234.69)"><circle r="7.7" fill="url(#red)"/></g>
<path d="M852.39 513.84C848.69 513.1 840.24 513.38 840.05 511.39C839.85 509.4 851.54 508.16 851.61 505.88C851.68 503.6 840.35 504.38 840.34 502.25C840.33 500.13 851.62 499.49 851.57 497.38C851.51 495.27 840.41 496.04 840.11 493.81C839.81 491.57 850.41 490.55 850.37 488.45C850.33 486.35 840.11 487.49 839.94 485.41C839.78 483.33 849.82 482.14 849.72 480.14C849.63 478.14 839.72 479.32 839.57 477.42C839.43 475.52 849.18 474.47 849.16 472.55C849.14 470.63 839.35 471.8 839.48 469.74C839.62 467.69 849.78 466.32 849.69 464.33C849.6 462.33 839.23 463.78 839.11 461.75C838.99 459.72 849.22 458.27 849.21 456.21C849.19 454.14 842.1 454.3 839.06 453.48" fill="none" stroke="#34456f" stroke-width="1.3" stroke-linecap="round" stroke-linejoin="round"/>
<path d="M839.06 453.48C839.36 450.23 841.97 443.72 840.05 442.63C838.13 441.55 833.28 450.39 831.37 449.16C829.46 447.93 834.11 438.71 832.4 437.71C830.69 436.72 826.32 446.25 824.55 445.17C822.77 444.1 827.06 434.64 825.3 433.42C823.53 432.2 819.19 441.28 817.48 440.29C815.78 439.29 819.32 431.19 818.47 429.44C817.63 427.69 815.41 432.13 814.1 433.28" fill="none" stroke="#4a86c8" stroke-width="1.2" stroke-linecap="round" stroke-linejoin="round"/>
<path d="M844.5 547.6C847.8 545.63 854.58 544.01 854.51 541.63C854.44 539.26 844.22 538.67 844.15 536.29C844.08 533.92 854.23 532.7 854.16 530.33C854.09 527.95 843.87 527.36 843.8 524.99C843.73 522.61 853.88 521.39 853.81 519.02C853.74 516.65 843.52 516.06 843.45 513.68C843.38 511.31 853.53 510.09 853.46 507.71C853.39 505.34 843.18 504.75 843.1 502.38C843.03 500 853.19 498.78 853.11 496.41C853.04 494.03 842.83 493.44 842.75 491.07C842.68 488.7 852.84 487.48 852.76 485.1C852.69 482.73 842.48 482.14 842.4 479.76C842.33 477.39 852.49 476.17 852.41 473.8C852.34 471.42 842.13 470.83 842.05 468.46C841.98 466.08 852.14 464.86 852.06 462.49C851.99 460.12 841.78 459.53 841.7 457.15C841.63 454.78 848.41 453.15 851.71 451.18" fill="none" stroke="#2f962f" stroke-width="1.75" stroke-linecap="round" stroke-linejoin="round"/>
<path d="M974.64 480.97C972.71 481.94 970.35 485.9 968.2 484.2C966.06 482.51 968.91 475.62 966.84 474.81C964.77 474 962.45 482.59 960.68 481.26C958.9 479.94 962.09 471.16 960.39 469.99C958.69 468.81 956.16 477.53 954.49 476.98C952.83 476.43 956.27 469.23 954.34 467.98C952.42 466.73 949.42 472.94 947.5 472.42C945.58 471.91 947.4 468.01 947.36 466.11" fill="none" stroke="#c00000" stroke-width="1.8" stroke-linecap="round" stroke-linejoin="round"/>
<path d="M980.81 474.52C978.75 473.43 974.29 473.23 973.95 470.9C973.62 468.58 979.96 468.27 979.58 466.06C979.21 463.84 972.42 465.25 972.6 462.85C972.78 460.45 980.24 459.55 980.24 457.33C980.24 455.11 972.88 456.86 972.58 454.79C972.28 452.72 979.23 452.18 979.15 449.81C979.07 447.45 972.78 448.08 972.3 446.2C971.82 444.32 975.87 443.94 977.4 442.97" fill="none" stroke="#c00000" stroke-width="1.8" stroke-linecap="round" stroke-linejoin="round"/>
<path d="M988.87 475.84C988.02 473.95 984.49 471.24 986.03 469.54C987.58 467.84 992.98 471.62 994.49 469.66C996 467.7 989.39 464.04 991.53 462.41C993.67 460.78 1000.46 465.11 1002.27 463.74C1004.08 462.37 997.14 458.84 998.1 457.43C999.06 456.03 1004.13 460.18 1005.75 458.63C1007.38 457.07 1002.71 453.08 1004 451.78C1005.29 450.49 1008.51 453.28 1010.45 453.92" fill="none" stroke="#c00000" stroke-width="1.8" stroke-linecap="round" stroke-linejoin="round"/>
<path d="M990.76 483.63C992.29 482.26 993.93 478.17 995.85 479.05C997.77 479.94 995.31 486.03 997.75 486.84C1000.18 487.65 1002.39 480.85 1004.72 481.99C1007.05 483.13 1004.11 490.29 1006.21 490.99C1008.32 491.68 1010.24 483.94 1012.38 484.53C1014.52 485.12 1012.16 492.02 1014 493.12C1015.85 494.23 1017.4 488.11 1019.1 488.55C1020.8 488.99 1019.86 492.87 1020.18 494.72" fill="none" stroke="#c00000" stroke-width="1.8" stroke-linecap="round" stroke-linejoin="round"/>
<path d="M985.67 489.55C987.84 490.27 992.25 489.88 992.92 491.95C993.59 494.02 987.17 495.03 988.1 497.06C989.02 499.09 995.92 497.11 996.29 499.33C996.66 501.54 989.04 503.01 989.45 505.11C989.86 507.22 997.22 504.95 997.78 506.98C998.34 509.01 991.33 510.35 991.48 512.5C991.63 514.64 997.7 512.96 998.33 514.77C998.96 516.58 995.14 517.78 993.77 519.07" fill="none" stroke="#c00000" stroke-width="1.8" stroke-linecap="round" stroke-linejoin="round"/>
<path d="M979.62 488.88C979.75 491.34 982.03 495.52 980.04 497.07C978.05 498.63 974 492.98 972.38 494.54C970.76 496.09 976.1 501.28 974.14 502.72C972.19 504.17 967.16 498.56 965.27 499.79C963.39 501.01 969.07 505.91 967.3 507.17C965.53 508.43 960.68 503.25 958.84 504.36C956.99 505.47 961.44 510.13 960.6 511.21C959.75 512.28 957.21 509.14 955.76 508.26" fill="none" stroke="#c00000" stroke-width="1.8" stroke-linecap="round" stroke-linejoin="round"/>
<g transform="translate(982.7 482.3) rotate(288.34)"><circle r="7.73" fill="url(#red)"/></g>
<path d="M952.71 573.08C951.1 569.65 945.85 562.98 947.34 561.64C948.83 560.29 956.79 569.01 958.68 567.71C960.57 566.41 953.19 557.71 954.9 556.44C956.61 555.16 963.85 563.92 965.53 562.61C967.2 561.31 959.97 552.79 961.6 551.22C963.22 549.65 970.37 557.61 972.04 556.33C973.71 555.05 966.7 547.46 968.29 546.09C969.87 544.72 976.81 552.13 978.37 550.86C979.93 549.6 973.08 542.28 974.53 541.03C975.98 539.79 982.64 547.05 984.18 545.89C985.71 544.72 978.94 537.5 980.68 536.39C982.43 535.27 989.58 542.68 991.14 541.42C992.7 540.15 985.36 532.64 986.93 531.33C988.5 530.03 995.76 537.44 997.42 536.2C999.09 534.95 994.73 529.31 993.58 526.37" fill="none" stroke="#34456f" stroke-width="1.3" stroke-linecap="round" stroke-linejoin="round"/>
<path d="M993.58 526.37C996.39 524.67 1003.22 522.91 1002.95 520.71C1002.68 518.51 992.65 519.85 992.51 517.57C992.36 515.29 1002.58 513.56 1002.37 511.59C1002.16 509.62 991.85 511.76 991.66 509.68C991.47 507.6 1001.68 505.44 1001.62 503.29C1001.56 501.13 991.62 503.03 991.41 501.06C991.2 499.08 999.86 497.12 1000.78 495.4C1001.69 493.67 996.77 494.52 995.06 494.15" fill="none" stroke="#4a86c8" stroke-width="1.2" stroke-linecap="round" stroke-linejoin="round"/>
<path d="M920.7 586.8C924.26 588.3 929.61 592.82 931.49 591.34C933.36 589.87 927.76 581.26 929.64 579.79C931.51 578.31 938.55 585.8 940.42 584.33C942.3 582.86 936.7 574.25 938.57 572.77C940.45 571.3 947.48 578.79 949.36 577.32C951.24 575.84 945.63 567.23 947.51 565.76C949.39 564.29 956.42 571.77 958.3 570.3C960.17 568.83 954.57 560.22 956.45 558.74C958.32 557.27 965.35 564.76 967.23 563.29C969.11 561.81 963.5 553.2 965.38 551.73C967.26 550.26 974.29 557.75 976.17 556.27C978.04 554.8 972.44 546.19 974.32 544.72C976.19 543.24 983.23 550.73 985.1 549.26C986.98 547.79 981.38 539.18 983.25 537.7C985.13 536.23 992.16 543.72 994.04 542.25C995.92 540.77 990.31 532.16 992.19 530.69C994.07 529.22 999.42 533.73 1002.98 535.23" fill="none" stroke="#2f962f" stroke-width="1.75" stroke-linecap="round" stroke-linejoin="round"/>
<path d="M1040.73 703.66C1039.21 702.14 1034.72 701.14 1035.65 698.58C1036.58 696.02 1044 696.56 1044.12 694.35C1044.23 692.14 1035.38 692.63 1036.08 690.54C1036.78 688.45 1046.07 688.71 1046.66 686.73C1047.24 684.75 1038.19 685.09 1038.19 683.35C1038.19 681.6 1046.08 682.6 1046.66 680.38C1047.24 678.17 1040.43 677.28 1040.31 675.31C1040.19 673.33 1044.46 673.83 1046.23 673.19" fill="none" stroke="#c00000" stroke-width="1.8" stroke-linecap="round" stroke-linejoin="round"/>
<path d="M1048.77 707.47C1049.15 705.18 1047.95 700.9 1050.04 699.85C1052.14 698.8 1054.41 704.71 1056.39 703.66C1058.37 702.61 1054.91 696.62 1057.24 696.04C1059.56 695.46 1062.76 702.24 1064.85 701.55C1066.95 700.85 1062.99 694.44 1064.85 693.5C1066.72 692.57 1069.41 698.97 1071.62 698.16C1073.84 697.35 1071.26 691.59 1072.89 690.54C1074.52 689.5 1076.15 693.21 1077.55 694.35" fill="none" stroke="#c00000" stroke-width="1.8" stroke-linecap="round" stroke-linejoin="round"/>
<path d="M1050.04 715.51C1051.56 714.11 1053.02 709.92 1055.12 710.85C1057.21 711.79 1055.33 718.08 1057.66 718.9C1059.98 719.71 1061.37 712.3 1063.58 713.82C1065.79 715.33 1063.84 723.12 1065.7 724.4C1067.56 725.68 1068.72 718.01 1070.35 718.47C1071.98 718.94 1069.64 725.04 1071.62 726.09C1073.6 727.14 1075.92 721.47 1077.55 722.28C1079.18 723.1 1077.55 727.02 1077.55 729.05" fill="none" stroke="#c00000" stroke-width="1.8" stroke-linecap="round" stroke-linejoin="round"/>
<path d="M1043.27 719.74C1045.05 720.76 1049.43 721.03 1049.19 723.13C1048.96 725.22 1042.42 724.8 1042.42 727.36C1042.42 729.92 1049.54 729.88 1049.19 732.44C1048.84 735 1041.15 734.46 1041.15 736.67C1041.15 738.88 1049.08 738.27 1049.19 740.48C1049.31 742.69 1042.04 742.61 1041.57 744.71C1041.11 746.8 1047.38 746.35 1047.5 748.09C1047.62 749.84 1043.65 750.17 1042 751.06" fill="none" stroke="#c00000" stroke-width="1.8" stroke-linecap="round" stroke-linejoin="round"/>
<path d="M1036.08 716.78C1036.07 719.06 1037.82 723.12 1036.07 724.4C1034.33 725.68 1031.36 719.92 1029.73 721.43C1028.1 722.95 1032.13 728.85 1030.15 729.9C1028.17 730.94 1024.39 724.19 1022.53 725.24C1020.67 726.29 1025.12 732.54 1023.38 733.7C1021.63 734.87 1018.16 728.66 1016.18 729.47C1014.21 730.29 1017.7 735.5 1016.18 736.67C1014.67 737.83 1012.33 734.59 1010.68 733.7" fill="none" stroke="#c00000" stroke-width="1.8" stroke-linecap="round" stroke-linejoin="round"/>
<path d="M1034.81 710.85C1032.52 711.74 1029.28 715.21 1027.19 713.81C1025.09 712.42 1029.17 706.82 1027.19 705.77C1025.21 704.73 1021.97 711.4 1019.99 710.01C1018.02 708.61 1021.74 702.09 1020 700.7C1018.25 699.3 1015.39 706.21 1013.65 704.93C1011.9 703.65 1015.28 697.44 1013.65 696.04C1012.02 694.64 1009 700.31 1007.72 699.85C1006.44 699.38 1008.61 696 1008.99 694.35" fill="none" stroke="#c00000" stroke-width="1.8" stroke-linecap="round" stroke-linejoin="round"/>
<g transform="translate(1042 711.7) rotate(0)"><circle r="7.7" fill="url(#red)"/></g>
<path d="M946.71 711.78C949.45 709.18 954.12 702.12 955.86 703.11C957.6 704.11 951.84 714.37 953.66 715.75C955.49 717.13 961.4 707.42 963.15 708.64C964.89 709.86 958.88 719.45 960.63 720.63C962.39 721.8 968.18 712.29 970.18 713.34C972.17 714.39 966.88 723.64 968.62 724.82C970.36 726 975.34 716.99 977.13 718.06C978.92 719.13 974.09 728.02 975.78 729.1C977.46 730.18 982.24 721.4 983.87 722.38C985.51 723.36 980.73 731.94 982.31 733.03C983.89 734.12 988.59 725.45 990.2 726.75C991.8 728.05 987.03 737.14 988.72 738.22C990.4 739.3 995.21 729.99 996.94 731.07C998.66 732.15 993.93 741.34 995.63 742.52C997.32 743.71 1001.29 737.82 1003.72 735.81" fill="none" stroke="#34456f" stroke-width="1.3" stroke-linecap="round" stroke-linejoin="round"/>
<path d="M1003.72 735.81C1006.21 737.93 1010.02 743.84 1012.01 742.89C1014.01 741.95 1009.59 732.88 1011.7 732.03C1013.82 731.18 1018.66 740.31 1020.46 739.49C1022.26 738.68 1017 729.59 1018.91 728.76C1020.81 727.93 1026.05 736.91 1028.07 736.18C1030.09 735.44 1025.19 726.64 1026.99 725.82C1028.79 725 1033.35 732.59 1035.27 732.91C1037.19 733.23 1034.85 728.85 1034.67 727.11" fill="none" stroke="#4a86c8" stroke-width="1.2" stroke-linecap="round" stroke-linejoin="round"/>
<path d="M923.7 685.8C923.4 689.64 920.8 696.12 922.78 697.43C924.76 698.74 931.16 690.74 933.14 692.06C935.12 693.37 930.24 702.37 932.22 703.68C934.2 705 940.59 697 942.57 698.31C944.56 699.63 939.68 708.63 941.66 709.94C943.64 711.25 950.03 703.25 952.01 704.57C953.99 705.88 949.11 714.88 951.09 716.2C953.08 717.51 959.47 709.51 961.45 710.82C963.43 712.14 958.55 721.14 960.53 722.45C962.51 723.77 968.9 715.77 970.88 717.08C972.87 718.39 967.99 727.39 969.97 728.71C971.95 730.02 978.34 722.02 980.32 723.34C982.3 724.65 977.42 733.65 979.4 734.96C981.39 736.28 987.78 728.28 989.76 729.59C991.74 730.9 986.86 739.91 988.84 741.22C990.82 742.53 997.21 734.53 999.2 735.85C1001.18 737.16 998.58 743.64 998.28 747.48" fill="none" stroke="#2f962f" stroke-width="1.75" stroke-linecap="round" stroke-linejoin="round"/>
<path d="M913.82 841.61C914.16 839.5 912.36 835.32 914.96 834.58C917.55 833.84 921.43 840.11 923.27 838.92C925.12 837.73 919.57 830.91 921.66 830.25C923.75 829.6 928.94 837.22 930.87 836.54C932.79 835.86 927.27 828.79 928.67 827.77C930.07 826.76 933.85 833.67 935.97 832.85C938.08 832.04 934.84 826.05 936.36 824.8C937.88 823.56 939.96 827.28 941.5 828.34" fill="none" stroke="#c00000" stroke-width="1.8" stroke-linecap="round" stroke-linejoin="round"/>
<path d="M915.43 850.28C917.49 849.26 920.23 845.8 922.29 846.88C924.35 847.95 920.93 853.21 922.92 854.19C924.91 855.17 927.71 848.92 929.53 850.45C931.35 851.98 927.76 858.49 929.53 859.76C931.31 861.04 934.16 854.14 935.99 855.09C937.82 856.05 934.25 861.94 936.19 863.24C938.12 864.54 941.26 859.13 943.04 859.84C944.83 860.54 942.79 864 942.69 865.79" fill="none" stroke="#c00000" stroke-width="1.8" stroke-linecap="round" stroke-linejoin="round"/>
<path d="M909.71 855.97C911.72 856.39 915.93 855.13 916.4 857.35C916.87 859.57 910.72 861.72 911.41 864.06C912.11 866.4 918.87 863.22 918.93 865.87C919 868.53 911.61 871.48 911.66 873.72C911.71 875.96 918.55 872.44 919.13 874.02C919.7 875.6 913.43 877.26 913.74 879.46C914.05 881.66 919.95 880.23 920.24 882.01C920.54 883.79 916.43 884.76 914.8 885.94" fill="none" stroke="#c00000" stroke-width="1.8" stroke-linecap="round" stroke-linejoin="round"/>
<path d="M902.38 852.99C902.59 855.01 904.92 858.69 903.1 859.72C901.28 860.75 897.82 855.25 895.76 856.73C893.71 858.22 897.88 863.92 895.62 865.12C893.36 866.33 889.32 859.84 887.55 861.12C885.77 862.4 890.86 868.42 889.15 869.79C887.45 871.17 883.28 865.29 881.33 866.13C879.38 866.97 883.39 871.75 882.05 872.86C880.71 873.96 878.15 870.97 876.47 870.16" fill="none" stroke="#c00000" stroke-width="1.8" stroke-linecap="round" stroke-linejoin="round"/>
<path d="M900.58 845.49C898.74 846.82 896.5 850.57 894.46 849.91C892.42 849.25 895.31 843.52 893.15 843.09C890.99 842.66 888.59 849.33 886.6 848.35C884.61 847.37 887.84 840.41 885.91 839.52C883.99 838.63 881.55 845.84 879.6 845.12C877.65 844.39 880.63 838 878.83 836.88C877.02 835.76 874.86 841.6 873.04 841.06C871.23 840.52 872.47 836.76 872.23 834.92" fill="none" stroke="#c00000" stroke-width="1.8" stroke-linecap="round" stroke-linejoin="round"/>
<path d="M904.6 841.03C902.56 839.71 897.89 839.12 897.8 836.63C897.7 834.13 904.57 834.16 904.26 831.96C903.95 829.76 896.71 831.03 896.68 828.63C896.65 826.23 904.05 825.44 904.16 823.23C904.27 821.01 897.06 822.73 897.07 820.58C897.09 818.44 904.04 817.54 904.22 815.42C904.39 813.3 898.08 814.17 897.71 812.87C897.34 811.57 901.32 811.35 902.87 810.7" fill="none" stroke="#c00000" stroke-width="1.8" stroke-linecap="round" stroke-linejoin="round"/>
<g transform="translate(908.1 847.3) rotate(54.14)"><circle r="7.64" fill="url(#red)"/></g>
<path d="M852.69 770.78C856.37 771.47 864.75 771.12 864.97 773.1C865.18 775.07 853.59 776.4 853.54 778.67C853.49 780.94 864.73 780.05 864.76 782.16C864.79 784.27 853.59 785.01 853.67 787.11C853.74 789.2 864.75 788.33 865.07 790.54C865.39 792.75 854.88 793.87 854.94 795.96C855 798.04 865.13 796.81 865.31 798.87C865.49 800.93 855.55 802.21 855.66 804.19C855.77 806.17 865.6 804.92 865.76 806.8C865.91 808.68 856.25 809.82 856.29 811.72C856.33 813.63 866.03 812.37 865.92 814.41C865.81 816.46 855.73 817.91 855.84 819.89C855.95 821.87 866.22 820.33 866.36 822.34C866.5 824.35 856.36 825.89 856.4 827.94C856.43 829.99 863.47 829.76 866.5 830.55" fill="none" stroke="#34456f" stroke-width="1.3" stroke-linecap="round" stroke-linejoin="round"/>
<path d="M866.5 830.55C866.23 833.78 863.7 840.27 865.62 841.32C867.53 842.38 872.26 833.56 874.17 834.77C876.08 835.97 871.55 845.16 873.25 846.13C874.96 847.1 879.2 837.6 880.98 838.65C882.75 839.7 878.58 849.13 880.34 850.33C882.11 851.52 886.33 842.47 888.03 843.44C889.74 844.41 886.3 852.48 887.15 854.21C888.01 855.94 890.17 851.51 891.46 850.35" fill="none" stroke="#4a86c8" stroke-width="1.2" stroke-linecap="round" stroke-linejoin="round"/>
<path d="M860.2 737.2C856.94 739.19 850.23 740.86 850.32 743.22C850.42 745.57 860.56 746.06 860.65 748.42C860.75 750.77 850.68 752.08 850.78 754.43C850.87 756.79 861.01 757.28 861.11 759.63C861.2 761.99 851.14 763.29 851.23 765.65C851.33 768.01 861.47 768.49 861.56 770.85C861.66 773.2 851.59 774.51 851.69 776.87C851.78 779.22 861.92 779.71 862.02 782.07C862.11 784.42 852.05 785.73 852.14 788.08C852.24 790.44 862.38 790.93 862.47 793.28C862.57 795.64 852.5 796.94 852.6 799.3C852.69 801.65 862.83 802.14 862.93 804.5C863.02 806.85 852.95 808.16 853.05 810.52C853.15 812.87 863.29 813.36 863.38 815.71C863.48 818.07 853.41 819.38 853.5 821.73C853.6 824.09 863.74 824.58 863.84 826.93C863.93 829.29 857.22 830.96 853.96 832.95" fill="none" stroke="#2f962f" stroke-width="1.75" stroke-linecap="round" stroke-linejoin="round"/>
<path d="M715.29 796.65C717.3 795.86 720.01 792.14 721.99 794.02C723.97 795.9 720.51 802.49 722.49 803.48C724.47 804.47 727.56 796.14 729.2 797.62C730.85 799.1 726.89 807.54 728.47 808.86C730.05 810.19 733.36 801.74 734.97 802.44C736.57 803.14 732.5 809.98 734.3 811.4C736.1 812.82 739.64 806.92 741.5 807.6C743.37 808.29 741.21 812 741.08 813.89" fill="none" stroke="#c00000" stroke-width="1.8" stroke-linecap="round" stroke-linejoin="round"/>
<path d="M708.58 802.51C710.53 803.78 714.94 804.38 715.07 806.72C715.19 809.07 708.86 808.8 709.03 811.03C709.2 813.27 716.08 812.49 715.69 814.86C715.29 817.23 707.78 817.45 707.59 819.65C707.39 821.85 714.86 820.78 714.97 822.87C715.08 824.95 708.13 824.87 707.99 827.22C707.85 829.58 714.17 829.52 714.48 831.44C714.79 833.35 710.73 833.36 709.12 834.19" fill="none" stroke="#c00000" stroke-width="1.8" stroke-linecap="round" stroke-linejoin="round"/>
<path d="M700.69 800.46C701.36 802.42 704.62 805.44 702.93 806.99C701.24 808.54 696.21 804.29 694.53 806.1C692.85 807.92 699.1 812.15 696.82 813.58C694.55 815 688.18 810.09 686.26 811.29C684.34 812.49 690.92 816.62 689.84 817.93C688.76 819.24 684.09 814.65 682.34 816.05C680.58 817.45 684.86 821.85 683.46 823.02C682.06 824.19 679.11 821.12 677.25 820.31" fill="none" stroke="#c00000" stroke-width="1.8" stroke-linecap="round" stroke-linejoin="round"/>
<path d="M699.51 792.55C697.86 793.78 695.86 797.69 694.03 796.64C692.2 795.59 695.2 789.75 692.85 788.73C690.5 787.7 687.69 794.26 685.48 792.91C683.27 791.57 686.84 784.72 684.81 783.84C682.78 782.95 680.17 790.47 678.09 789.7C676.01 788.92 678.99 782.27 677.25 781.01C675.51 779.74 673.42 785.69 671.77 785.1C670.12 784.5 671.41 780.73 671.25 778.86" fill="none" stroke="#c00000" stroke-width="1.8" stroke-linecap="round" stroke-linejoin="round"/>
<path d="M705.11 787.13C703.01 786.21 698.59 786.2 698.11 784.08C697.63 781.96 704.11 781.54 703.37 779.44C702.63 777.33 695.6 778.67 695.43 776.44C695.26 774.2 702.97 773.43 702.75 771.3C702.53 769.17 695.01 770.76 694.64 768.7C694.27 766.63 701.36 765.92 701.4 763.78C701.44 761.64 695.26 762.76 694.79 760.9C694.33 759.05 698.24 758.2 699.71 757.04" fill="none" stroke="#c00000" stroke-width="1.8" stroke-linecap="round" stroke-linejoin="round"/>
<path d="M711.05 788.33C711.15 785.88 709.26 781.52 711.38 780.15C713.5 778.78 717.01 784.76 718.77 783.37C720.52 781.97 715.68 776.32 717.76 775.07C719.83 773.81 724.33 779.83 726.31 778.79C728.29 777.74 723.09 772.36 724.96 771.27C726.83 770.18 731.19 775.76 733.12 774.82C735.06 773.88 731.05 768.85 731.99 767.86C732.93 766.87 735.18 770.21 736.54 771.22" fill="none" stroke="#c00000" stroke-width="1.8" stroke-linecap="round" stroke-linejoin="round"/>
<g transform="translate(707.4 794.6) rotate(113.53)"><circle r="7.72" fill="url(#red)"/></g>
<path d="M745.44 707.04C746.73 710.6 751.34 717.71 749.74 718.91C748.13 720.11 741.01 710.72 739.01 711.84C737.01 712.97 743.57 722.29 741.75 723.4C739.93 724.51 733.52 715.15 731.74 716.29C729.96 717.44 736.38 726.56 734.62 727.98C732.86 729.39 726.48 720.83 724.7 721.95C722.92 723.08 729.2 731.26 727.5 732.48C725.8 733.69 719.57 725.7 717.91 726.82C716.24 727.93 722.39 735.83 720.83 736.94C719.28 738.05 713.32 730.23 711.68 731.24C710.05 732.26 716.13 740.05 714.3 741C712.46 741.95 706.02 733.94 704.35 735.05C702.69 736.17 709.31 744.31 707.63 745.46C705.95 746.62 699.4 738.59 697.63 739.68C695.87 740.76 699.69 746.76 700.56 749.8" fill="none" stroke="#34456f" stroke-width="1.3" stroke-linecap="round" stroke-linejoin="round"/>
<path d="M700.56 749.8C697.62 751.23 690.67 752.37 690.74 754.58C690.81 756.79 700.9 756.36 700.84 758.64C700.78 760.92 690.46 761.72 690.49 763.7C690.52 765.68 700.97 764.48 700.96 766.56C700.96 768.65 690.62 769.87 690.49 772.02C690.35 774.17 700.4 773.18 700.43 775.16C700.47 777.14 691.67 778.31 690.61 779.94C689.55 781.58 694.51 781.17 696.18 781.7" fill="none" stroke="#4a86c8" stroke-width="1.2" stroke-linecap="round" stroke-linejoin="round"/>
<path d="M778.5 696.3C775.1 694.49 770.18 689.51 768.19 690.81C766.19 692.1 770.98 701.17 768.98 702.47C766.98 703.76 760.66 695.68 758.67 696.97C756.67 698.27 761.46 707.34 759.46 708.63C757.46 709.93 751.14 701.84 749.15 703.14C747.15 704.43 751.94 713.5 749.94 714.8C747.94 716.09 741.62 708.01 739.63 709.3C737.63 710.6 742.42 719.67 740.42 720.96C738.42 722.26 732.1 714.18 730.11 715.47C728.11 716.77 732.9 725.83 730.9 727.13C728.9 728.42 722.58 720.34 720.59 721.64C718.59 722.93 723.38 732 721.38 733.3C719.38 734.59 713.06 726.51 711.07 727.8C709.07 729.1 713.86 738.17 711.86 739.46C709.86 740.76 703.54 732.67 701.55 733.97C699.55 735.26 704.34 744.33 702.34 745.63C700.34 746.92 695.43 741.95 692.03 740.13" fill="none" stroke="#2f962f" stroke-width="1.75" stroke-linecap="round" stroke-linejoin="round"/>
<path d="M655.21 603.87C656.9 605.21 661.49 605.68 660.86 608.34C660.23 611 652.77 611.33 652.92 613.55C653.06 615.77 661.83 614.24 661.38 616.41C660.93 618.58 651.62 619.4 651.27 621.44C650.93 623.48 659.91 622.09 660.11 623.83C660.31 625.57 652.34 625.5 652.02 627.77C651.69 630.05 658.59 630.14 658.94 632.1C659.29 634.06 654.98 634.06 653.28 634.9" fill="none" stroke="#c00000" stroke-width="1.8" stroke-linecap="round" stroke-linejoin="round"/>
<path d="M646.74 601.01C646.63 603.33 648.33 607.47 646.37 608.76C644.4 610.05 641.44 604.42 639.59 605.7C637.74 606.97 641.89 612.54 639.64 613.39C637.38 614.25 633.4 607.86 631.4 608.8C629.39 609.74 634.08 615.67 632.34 616.82C630.59 617.96 627.15 611.89 625.04 612.97C622.93 614.04 626.17 619.47 624.66 620.71C623.16 621.94 621.1 618.43 619.58 617.46" fill="none" stroke="#c00000" stroke-width="1.8" stroke-linecap="round" stroke-linejoin="round"/>
<path d="M644.54 593.14C643.18 594.71 642.21 599.06 640.02 598.38C637.82 597.69 638.96 591.2 636.54 590.65C634.13 590.11 633.61 597.66 631.23 596.41C628.85 595.16 629.89 587.17 627.88 586.11C625.88 585.05 625.61 592.83 623.93 592.56C622.25 592.29 623.87 585.93 621.78 585.11C619.68 584.3 618.03 590.22 616.31 589.6C614.59 588.98 615.76 584.88 615.52 582.85" fill="none" stroke="#c00000" stroke-width="1.8" stroke-linecap="round" stroke-linejoin="round"/>
<path d="M650.79 588.13C648.9 587.32 644.5 587.56 644.49 585.45C644.48 583.33 651.05 582.99 650.75 580.43C650.45 577.88 643.35 578.76 643.4 576.16C643.45 573.57 651.19 573.21 650.93 571C650.67 568.8 642.84 570.33 642.46 568.14C642.09 565.95 649.35 565.18 649.57 563.03C649.79 560.89 643.58 562.08 643.26 560.35C642.94 558.62 646.86 557.83 648.4 556.75" fill="none" stroke="#c00000" stroke-width="1.8" stroke-linecap="round" stroke-linejoin="round"/>
<path d="M658.32 590.24C658.05 587.96 655.83 584.13 657.43 582.65C659.02 581.17 662.65 586.56 664.1 584.86C665.55 583.16 660.84 577.74 662.69 576.47C664.54 575.19 669.1 581.48 670.83 580.22C672.57 578.96 667.39 573.24 669 571.88C670.6 570.52 674.79 576.3 676.67 575.26C678.54 574.22 674.45 569.42 675.83 568.09C677.2 566.75 679.91 569.7 681.66 570.4" fill="none" stroke="#c00000" stroke-width="1.8" stroke-linecap="round" stroke-linejoin="round"/>
<path d="M660.27 596C662.45 594.85 665.27 591.01 667.52 592.16C669.78 593.31 666.37 599.36 668.46 600.18C670.56 600.99 673.01 593.96 675.14 595.12C677.28 596.28 674.33 603.21 676.23 604.4C678.13 605.59 680.18 598.37 682.07 599.44C683.96 600.51 681.32 607.1 683.1 608.3C684.89 609.5 687.24 603.5 688.57 603.81C689.9 604.13 688.13 607.76 687.94 609.45" fill="none" stroke="#c00000" stroke-width="1.8" stroke-linecap="round" stroke-linejoin="round"/>
<g transform="translate(653 596) rotate(173.32)"><circle r="7.73" fill="url(#red)"/></g>
<path d="M748.02 584.78C745.59 587.69 741.76 595.28 739.91 594.49C738.06 593.71 742.6 582.8 740.62 581.64C738.64 580.47 733.87 590.85 731.99 589.84C730.11 588.83 734.99 578.55 733.1 577.59C731.21 576.62 726.54 586.78 724.43 585.97C722.32 585.16 726.52 575.31 724.64 574.34C722.77 573.37 718.85 582.93 716.94 582.07C715.03 581.22 718.81 571.79 717.01 570.91C715.2 570.03 711.46 579.34 709.72 578.55C707.97 577.76 711.74 568.66 710.04 567.75C708.33 566.85 704.65 576.05 702.9 574.94C701.15 573.83 704.84 564.21 703.04 563.33C701.23 562.44 697.52 572.29 695.67 571.42C693.83 570.55 697.47 560.82 695.64 559.84C693.81 558.86 690.54 565.19 688.35 567.48" fill="none" stroke="#34456f" stroke-width="1.3" stroke-linecap="round" stroke-linejoin="round"/>
<path d="M688.35 567.48C685.63 565.65 681.14 560.21 679.26 561.39C677.38 562.56 682.84 571.09 680.83 572.18C678.83 573.28 672.94 564.74 671.24 565.77C669.54 566.79 675.84 575.24 674.04 576.29C672.23 577.34 665.95 568.99 664.03 569.96C662.1 570.93 668.02 579.14 666.32 580.16C664.62 581.19 659.18 574.16 657.23 574.07C655.28 573.97 658.13 578.06 658.51 579.78" fill="none" stroke="#4a86c8" stroke-width="1.2" stroke-linecap="round" stroke-linejoin="round"/>
<path d="M774 608C773.85 604.14 775.68 597.37 773.56 596.3C771.43 595.22 765.99 603.94 763.86 602.86C761.73 601.79 765.54 592.24 763.41 591.16C761.28 590.08 755.85 598.81 753.72 597.73C751.59 596.65 755.4 587.1 753.27 586.03C751.14 584.95 745.7 593.67 743.57 592.59C741.44 591.52 745.26 581.97 743.13 580.89C741 579.81 735.56 588.54 733.43 587.46C731.3 586.38 735.12 576.83 732.99 575.75C730.86 574.68 725.42 583.4 723.29 582.32C721.16 581.24 724.97 571.7 722.84 570.62C720.71 569.54 715.28 578.27 713.15 577.19C711.02 576.11 714.83 566.56 712.7 565.48C710.57 564.41 705.14 573.13 703.01 572.05C700.88 570.97 704.69 561.43 702.56 560.35C700.43 559.27 694.99 567.99 692.86 566.92C690.73 565.84 692.57 559.08 692.42 555.21" fill="none" stroke="#2f962f" stroke-width="1.75" stroke-linecap="round" stroke-linejoin="round"/>
<g transform="translate(1124.3 571.7) scale(1.2)">
<path d="M-12.5 12 L12.5 12 L12.3 50.8 L6.6 93.5 Q5.8 99.6 0.6 99.6 Q-4.6 99.6 -5.4 93.5 L-12.3 50.8 Z" fill="url(#tuber)"/>
<path d="M-12.3 50.8 L12.3 50.8 L6.6 93.5 Q5.8 99.6 0.6 99.6 Q-4.6 99.6 -5.4 93.5 L-12.3 50.8 Z" fill="#ed1c24"/>
<path d="M-12.3 17.5 Q0 20.5 12.3 17.5" fill="none" stroke="#b5b5b5" stroke-width="0.9" opacity="0.7"/>
<path d="M-16 8.5 L14 8.5 L12.5 14 L-12.5 14 Z" fill="#dadada"/>
<path d="M13 4.6 L21.5 5 Q25.2 5.6 25 8 Q24.8 10.6 21.5 10.6 L14 10.4 Z" fill="#e2e2e2" stroke="#c9c9c9" stroke-width="0.5"/>
<ellipse cx="-4" cy="4.5" rx="19.1" ry="4.5" fill="#e2e2e2" stroke="#c9c9c9" stroke-width="0.6"/>
<ellipse cx="-2.5" cy="4.2" rx="13" ry="2.6" fill="#f4f4f4"/>
</g>
<path d="M69.56 913.85C69.24 917.21 66.86 922.85 68.58 924.03C70.29 925.22 76.02 918.3 77.74 919.48C79.46 920.66 75.04 928.48 76.75 929.67C78.47 930.85 84.2 923.93 85.92 925.11C87.63 926.3 83.21 934.11 84.93 935.3C86.65 936.48 92.38 929.56 94.09 930.75C95.81 931.93 91.39 939.75 93.11 940.93C94.83 942.11 100.55 935.2 102.27 936.38C103.99 937.56 99.57 945.38 101.29 946.56C103.01 947.74 108.73 940.83 110.45 942.01C112.17 943.19 107.75 951.01 109.47 952.19C111.18 953.38 116.91 946.46 118.63 947.64C120.35 948.83 115.93 956.64 117.64 957.83C119.36 959.01 125.09 952.09 126.81 953.27C128.52 954.46 124.1 962.28 125.82 963.46C127.54 964.64 133.27 957.72 134.98 958.91C136.7 960.09 134.32 965.73 134 969.09" fill="none" stroke="#45a045" stroke-width="1.4" stroke-linecap="round" stroke-linejoin="round"/>
<text font-family="'Liberation Sans', sans-serif"><tspan x="66.6" y="996.8" font-size="18" font-weight="bold" font-style="normal" fill="#000" textLength="46" lengthAdjust="spacingAndGlyphs">BRAF</tspan><tspan x="112" y="990.2" font-size="12" font-weight="normal" font-style="italic" fill="#000" textLength="19.5" lengthAdjust="spacingAndGlyphs">WT</tspan></text>
<text x="78.5" y="1031.2" font-family="'Liberation Sans', sans-serif" font-size="18" font-weight="bold" font-style="normal" fill="#000" text-anchor="start" textLength="47" lengthAdjust="spacingAndGlyphs">allele</text>
<path d="M251.6 914.5C251.3 917.89 248.95 923.58 250.69 924.76C252.43 925.94 258.14 918.93 259.88 920.11C261.61 921.28 257.23 929.19 258.97 930.36C260.7 931.54 266.41 924.53 268.15 925.71C269.89 926.89 265.5 934.79 267.24 935.97C268.98 937.15 274.69 930.14 276.43 931.32C278.17 932.49 273.78 940.4 275.52 941.57C277.26 942.75 282.97 935.74 284.71 936.92C286.44 938.1 282.06 946 283.79 947.18C285.53 948.36 291.24 941.35 292.98 942.53C294.72 943.7 290.33 951.61 292.07 952.78C293.81 953.96 299.52 946.95 301.26 948.13C303 949.31 298.61 957.21 300.35 958.39C302.09 959.57 307.8 952.56 309.53 953.74C311.27 954.91 306.89 962.82 308.62 963.99C310.36 965.17 316.07 958.16 317.81 959.34C319.55 960.52 317.2 966.21 316.9 969.6" fill="none" stroke="#45a045" stroke-width="1.4" stroke-linecap="round" stroke-linejoin="round"/>
<circle cx="263" cy="927" r="4.9" fill="#c55a11"/>
<text font-family="'Liberation Sans', sans-serif"><tspan x="243.2" y="996.6" font-size="18" font-weight="bold" font-style="normal" fill="#c55a11" textLength="46" lengthAdjust="spacingAndGlyphs">BRAF</tspan><tspan x="289.9" y="990.3" font-size="11.6" font-weight="bold" font-style="normal" fill="#c55a11" textLength="35.6" lengthAdjust="spacingAndGlyphs">V600E</tspan></text>
<text x="260.6" y="1031.2" font-family="'Liberation Sans', sans-serif" font-size="18" font-weight="bold" font-style="normal" fill="#000" text-anchor="start" textLength="47" lengthAdjust="spacingAndGlyphs">allele</text>
<path d="M452.1 914.5C451.76 916.72 449.05 920.25 450.96 921.9C452.87 923.56 456.47 918.36 458.47 920.01C460.48 921.67 455.59 925.77 457.65 927.42C459.71 929.08 463.58 923.94 465.34 925.51C467.09 927.09 461.75 931.23 463.51 932.68C465.26 934.14 469.32 928.7 471.2 930.37C473.07 932.04 467.71 936.16 469.75 938.25C471.79 940.35 475.53 935.37 478 937.35C480.46 939.33 475.49 943.02 477.98 944.85C480.47 946.68 483.96 941.57 486.3 943.45C488.64 945.32 483.58 949.34 485.77 951.09C487.95 952.85 491.25 949.84 493.6 949.3" fill="none" stroke="#222" stroke-width="1.45" stroke-linecap="round"/>
<circle cx="461.3" cy="927.6" r="5.2" fill="#c55a11" opacity="1.0"/>
<text transform="translate(498.4 953.9) rotate(-51.27)" x="0" y="3.37" font-family="'Liberation Sans', sans-serif" font-size="9.41" font-weight="bold" text-anchor="middle" fill="#111" stroke="#111" stroke-width="0.18">B</text>
<text font-family="'Liberation Sans', sans-serif"><tspan x="431.2" y="996.6" font-size="18" font-weight="bold" font-style="normal" fill="#c55a11" textLength="46" lengthAdjust="spacingAndGlyphs">BRAF</tspan><tspan x="477.9" y="990.3" font-size="11.6" font-weight="bold" font-style="normal" fill="#c55a11" textLength="35.6" lengthAdjust="spacingAndGlyphs">V600E</tspan></text>
<text x="454.6" y="1031.2" font-family="'Liberation Sans', sans-serif" font-size="18" font-weight="bold" font-style="normal" fill="#000" text-anchor="start" textLength="35.2" lengthAdjust="spacingAndGlyphs">DP1</text>
<path d="M608.33 919.33C611.33 917.03 616.71 910.5 618.33 911.67C619.96 912.84 613.16 922.44 614.83 924C616.5 925.56 623.39 916.52 625 917.92C626.61 919.31 619.62 928.23 621.25 929.58C622.88 930.93 629.62 922.08 631.5 923.33C633.38 924.58 627.14 933.23 628.75 934.58C630.36 935.94 636.25 927.5 637.92 928.75C639.59 930 633.86 938.33 635.42 939.58C636.98 940.83 642.65 932.6 644.17 933.75C645.69 934.9 640.04 942.92 641.5 944.17C642.96 945.42 648.54 937.29 650 938.75C651.46 940.21 645.77 948.75 647.33 950C648.89 951.25 654.64 942.5 656.25 943.75C657.86 945 652.19 953.64 653.75 955C655.31 956.36 659.88 950.92 662.5 949.17" fill="none" stroke="#34456f" stroke-width="1.3" stroke-linecap="round" stroke-linejoin="round"/>
<path d="M662.5 949.17C664.75 951.54 667.92 957.81 670 957.08C672.08 956.35 668.64 946.88 670.83 946.25C673.02 945.62 676.88 955.21 678.75 954.58C680.62 953.96 676.35 944.38 678.33 943.75C680.31 943.12 684.59 952.6 686.67 952.08C688.75 951.56 684.79 942.29 686.67 941.67C688.54 941.04 692.29 949.06 694.17 949.58C696.04 950.1 694.17 945.5 694.17 943.75" fill="none" stroke="#4a86c8" stroke-width="1.2" stroke-linecap="round" stroke-linejoin="round"/>
<text x="639.2" y="1031.2" font-family="'Liberation Sans', sans-serif" font-size="18" font-weight="bold" font-style="normal" fill="#000" text-anchor="start" textLength="34.6" lengthAdjust="spacingAndGlyphs">DP2</text>
<path d="M849.73 936.76C848.21 935.24 843.72 934.25 844.65 931.69C845.59 929.13 853 929.67 853.12 927.46C853.23 925.25 844.38 925.74 845.08 923.65C845.78 921.56 855.07 921.82 855.65 919.84C856.23 917.86 847.19 918.2 847.19 916.46C847.19 914.71 855.07 915.71 855.65 913.5C856.23 911.29 849.42 910.4 849.31 908.42C849.19 906.44 853.45 906.94 855.23 906.31" fill="none" stroke="#c00000" stroke-width="1.8" stroke-linecap="round" stroke-linejoin="round"/>
<path d="M857.77 940.57C858.15 938.29 856.94 934 859.04 932.96C861.13 931.91 863.4 937.81 865.38 936.76C867.36 935.72 863.9 929.73 866.23 929.15C868.55 928.57 871.75 935.35 873.84 934.65C875.94 933.95 871.98 927.54 873.84 926.61C875.7 925.68 878.4 932.08 880.61 931.26C882.82 930.45 880.25 924.7 881.88 923.65C883.51 922.6 885.14 926.31 886.53 927.46" fill="none" stroke="#c00000" stroke-width="1.8" stroke-linecap="round" stroke-linejoin="round"/>
<path d="M859.04 948.61C860.56 947.21 862.02 943.02 864.11 943.95C866.21 944.88 864.32 951.18 866.65 951.99C868.98 952.81 870.36 945.4 872.57 946.92C874.78 948.43 872.83 956.21 874.69 957.49C876.55 958.77 877.71 951.1 879.34 951.57C880.97 952.03 878.63 958.14 880.61 959.18C882.59 960.23 884.9 954.56 886.53 955.38C888.16 956.19 886.53 960.11 886.53 962.14" fill="none" stroke="#c00000" stroke-width="1.8" stroke-linecap="round" stroke-linejoin="round"/>
<path d="M852.27 952.84C854.05 953.85 858.42 954.13 858.19 956.22C857.96 958.32 851.42 957.89 851.42 960.45C851.42 963.01 858.54 962.97 858.19 965.53C857.84 968.09 850.15 967.55 850.15 969.76C850.15 971.97 858.07 971.35 858.19 973.56C858.31 975.78 851.04 975.7 850.58 977.79C850.11 979.89 856.38 979.43 856.5 981.18C856.62 982.92 852.65 983.25 851 984.14" fill="none" stroke="#c00000" stroke-width="1.8" stroke-linecap="round" stroke-linejoin="round"/>
<path d="M845.08 949.88C845.08 952.16 846.82 956.21 845.08 957.49C843.33 958.77 840.36 953.02 838.73 954.53C837.1 956.04 841.13 961.94 839.16 962.99C837.18 964.04 833.4 957.29 831.54 958.34C829.68 959.38 834.13 965.63 832.39 966.8C830.64 967.96 827.17 961.75 825.2 962.57C823.22 963.38 826.71 968.59 825.2 969.76C823.68 970.92 821.35 967.68 819.7 966.8" fill="none" stroke="#c00000" stroke-width="1.8" stroke-linecap="round" stroke-linejoin="round"/>
<path d="M843.81 943.95C841.52 944.84 838.29 948.31 836.19 946.92C834.1 945.52 838.17 939.92 836.19 938.88C834.22 937.83 830.98 944.5 829 943.11C827.03 941.71 830.75 935.2 829 933.8C827.26 932.41 824.4 939.31 822.66 938.03C820.91 936.75 824.29 930.54 822.66 929.15C821.03 927.75 818.02 933.42 816.74 932.96C815.46 932.49 817.62 929.11 818.01 927.46" fill="none" stroke="#c00000" stroke-width="1.8" stroke-linecap="round" stroke-linejoin="round"/>
<g transform="translate(851 944.8) rotate(0)"><circle r="7.7" fill="url(#red)"/></g>
<text x="799.5" y="1031.2" font-family="'Liberation Sans', sans-serif" font-size="18" font-weight="bold" font-style="normal" fill="#000" text-anchor="start" textLength="106" lengthAdjust="spacingAndGlyphs">AuNP probe</text>
<text transform="translate(1071.9 910.2) rotate(0)" x="0" y="3.79" font-family="'Liberation Sans', sans-serif" font-size="10.6" font-weight="normal" text-anchor="middle" fill="#111" stroke="#111" stroke-width="0.4">S</text>
<text transform="translate(1105.5 932.4) rotate(60)" x="0" y="3.79" font-family="'Liberation Sans', sans-serif" font-size="10.6" font-weight="normal" text-anchor="middle" fill="#111" stroke="#111" stroke-width="0.4">S</text>
<text transform="translate(1104.6 977) rotate(120)" x="0" y="3.79" font-family="'Liberation Sans', sans-serif" font-size="10.6" font-weight="normal" text-anchor="middle" fill="#111" stroke="#111" stroke-width="0.4">S</text>
<text transform="translate(1071.2 994) rotate(180)" x="0" y="3.79" font-family="'Liberation Sans', sans-serif" font-size="10.6" font-weight="normal" text-anchor="middle" fill="#111" stroke="#111" stroke-width="0.4">S</text>
<text transform="translate(1039.5 977) rotate(240)" x="0" y="3.79" font-family="'Liberation Sans', sans-serif" font-size="10.6" font-weight="normal" text-anchor="middle" fill="#111" stroke="#111" stroke-width="0.4">S</text>
<text transform="translate(1035.5 932.4) rotate(300)" x="0" y="3.79" font-family="'Liberation Sans', sans-serif" font-size="10.6" font-weight="normal" text-anchor="middle" fill="#111" stroke="#111" stroke-width="0.4">S</text>
<circle cx="1070.8" cy="952.5" r="31" fill="url(#gold)"/>
<circle cx="1070.8" cy="952.5" r="31" fill="url(#goldl)"/>
<circle cx="1070.8" cy="952.5" r="31" fill="url(#goldb)"/>
<circle cx="1070.8" cy="952.5" r="31" fill="url(#goldsh)"/>
<text x="1072.5" y="949.3" font-family="'Liberation Sans', sans-serif" font-size="8.1" font-weight="bold" font-style="normal" fill="#2b2205" text-anchor="middle" textLength="41" lengthAdjust="spacingAndGlyphs">MAGNETIC</text>
<text x="1072.5" y="959.1" font-family="'Liberation Sans', sans-serif" font-size="8.1" font-weight="bold" font-style="normal" fill="#2b2205" text-anchor="middle" textLength="52" lengthAdjust="spacingAndGlyphs">MICROBEADS</text>
<text x="1011.2" y="1031.2" font-family="'Liberation Sans', sans-serif" font-size="18" font-weight="bold" font-style="normal" fill="#000" text-anchor="start" textLength="116.2" lengthAdjust="spacingAndGlyphs">microparticle</text>
</g>
</svg>
</body></html>
